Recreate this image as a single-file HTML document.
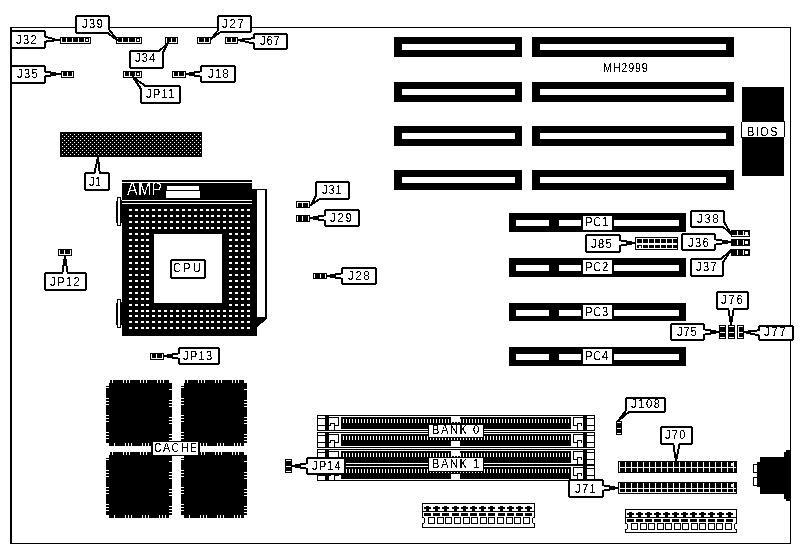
<!DOCTYPE html>
<html><head><meta charset="utf-8"><style>
html,body{margin:0;padding:0;background:#fff;width:802px;height:549px;overflow:hidden}
svg{display:block;will-change:transform}
text{font-family:"Liberation Sans",sans-serif}
</style></head><body>
<svg width="802" height="549" viewBox="0 0 802 549" shape-rendering="crispEdges">
<defs><filter id="th" x="-10%" y="-30%" width="120%" height="160%"><feComponentTransfer><feFuncA type="discrete" tableValues="0 0 0 0 0 0 0 0 0 1 1 1 1 1 1 1 1 1 1 1"/></feComponentTransfer></filter><filter id="th2" x="-10%" y="-30%" width="120%" height="160%"><feComponentTransfer><feFuncA type="discrete" tableValues="0 0 0 1 1"/></feComponentTransfer></filter></defs>
<rect x="10" y="27" width="781" height="1" fill="#000"/>
<rect x="10" y="27" width="2" height="517" fill="#000"/>
<rect x="790" y="27" width="1" height="517" fill="#000"/>
<rect x="10" y="543" width="781" height="1" fill="#000"/>
<rect x="394" y="37" width="128" height="20" fill="#000"/>
<rect x="402" y="44" width="113" height="6" fill="#fff"/>
<rect x="532" y="37" width="202" height="20" fill="#000"/>
<rect x="540" y="44" width="186" height="6" fill="#fff"/>
<rect x="394" y="82" width="128" height="20" fill="#000"/>
<rect x="402" y="89" width="113" height="6" fill="#fff"/>
<rect x="532" y="82" width="202" height="20" fill="#000"/>
<rect x="540" y="89" width="186" height="6" fill="#fff"/>
<rect x="394" y="126" width="128" height="20" fill="#000"/>
<rect x="402" y="133" width="113" height="6" fill="#fff"/>
<rect x="532" y="126" width="202" height="20" fill="#000"/>
<rect x="540" y="133" width="186" height="6" fill="#fff"/>
<rect x="394" y="170" width="128" height="20" fill="#000"/>
<rect x="402" y="177" width="113" height="6" fill="#fff"/>
<rect x="532" y="170" width="202" height="20" fill="#000"/>
<rect x="540" y="177" width="186" height="6" fill="#fff"/>
<text transform="translate(603,72) scale(0.82,1)" font-size="13.0" letter-spacing="1.1" fill="#000" filter="url(#th)">MH2999</text>
<rect x="742" y="87" width="42" height="89" fill="#000"/>
<rect x="741" y="121" width="44" height="17" rx="2" fill="#000"/>
<rect x="742" y="122" width="42" height="15" fill="#fff"/>
<text transform="translate(747,136) scale(0.82,1)" font-size="13.6" letter-spacing="1.5" fill="#000" filter="url(#th)">BIOS</text>
<rect x="60" y="37" width="31" height="7" fill="#000"/>
<rect x="61" y="38" width="29" height="5" fill="#fff"/>
<rect x="62" y="38" width="4" height="4" fill="#000"/>
<rect x="67" y="38" width="5" height="4" fill="#000"/>
<rect x="73" y="38" width="5" height="4" fill="#000"/>
<rect x="79" y="38" width="5" height="4" fill="#000"/>
<rect x="85" y="38" width="4" height="4" fill="#000"/>
<rect x="86" y="39" width="2" height="2" fill="#fff"/>
<rect x="116" y="37" width="26" height="7" fill="#000"/>
<rect x="117" y="38" width="24" height="5" fill="#fff"/>
<rect x="118" y="38" width="4" height="4" fill="#000"/>
<rect x="123" y="38" width="5" height="4" fill="#000"/>
<rect x="129" y="38" width="6" height="4" fill="#000"/>
<rect x="136" y="38" width="4" height="4" fill="#000"/>
<rect x="137" y="39" width="2" height="2" fill="#fff"/>
<rect x="165" y="37" width="13" height="7" fill="#000"/>
<rect x="166" y="38" width="11" height="5" fill="#fff"/>
<rect x="167" y="38" width="4" height="4" fill="#000"/>
<rect x="172" y="38" width="4" height="4" fill="#000"/>
<rect x="197" y="37" width="14" height="7" fill="#000"/>
<rect x="198" y="38" width="12" height="5" fill="#fff"/>
<rect x="199" y="38" width="5" height="4" fill="#000"/>
<rect x="205" y="38" width="4" height="4" fill="#000"/>
<rect x="225" y="37" width="13" height="7" fill="#000"/>
<rect x="226" y="38" width="11" height="5" fill="#fff"/>
<rect x="227" y="38" width="4" height="4" fill="#000"/>
<rect x="232" y="38" width="4" height="4" fill="#000"/>
<rect x="61" y="71" width="13" height="7" fill="#000"/>
<rect x="62" y="72" width="11" height="5" fill="#fff"/>
<rect x="63" y="72" width="4" height="4" fill="#000"/>
<rect x="68" y="72" width="4" height="4" fill="#000"/>
<rect x="123" y="71" width="19" height="7" fill="#000"/>
<rect x="124" y="72" width="17" height="5" fill="#fff"/>
<rect x="125" y="72" width="4" height="4" fill="#000"/>
<rect x="130" y="72" width="5" height="4" fill="#000"/>
<rect x="136" y="72" width="4" height="4" fill="#000"/>
<rect x="137" y="73" width="2" height="2" fill="#fff"/>
<rect x="172" y="71" width="14" height="7" fill="#000"/>
<rect x="173" y="72" width="12" height="5" fill="#fff"/>
<rect x="174" y="72" width="4" height="4" fill="#000"/>
<rect x="179" y="72" width="5" height="4" fill="#000"/>
<rect x="10" y="30" width="36" height="19" rx="3" fill="#000"/>
<polygon points="43,36 43,42 57,40" fill="#fff" stroke="#000" stroke-width="2" stroke-linejoin="round"/>
<line x1="56" y1="40" x2="60" y2="40" stroke="#000" stroke-width="2"/>
<rect x="12" y="32" width="32" height="15" rx="1.5" fill="#fff"/>
<text transform="translate(16,44) scale(0.82,1)" font-size="13.6" letter-spacing="1.65" fill="#000" filter="url(#th)">J32</text>
<rect x="10" y="65" width="36" height="19" rx="3" fill="#000"/>
<polygon points="43,71 43,77 58,74" fill="#fff" stroke="#000" stroke-width="2" stroke-linejoin="round"/>
<line x1="57" y1="74" x2="61" y2="74" stroke="#000" stroke-width="2"/>
<rect x="12" y="67" width="32" height="15" rx="1.5" fill="#fff"/>
<text transform="translate(17,78) scale(0.82,1)" font-size="13.6" letter-spacing="1.65" fill="#000" filter="url(#th)">J35</text>
<rect x="75" y="15" width="35" height="19" rx="3" fill="#000"/>
<polygon points="105,31 108,28 117,40" fill="#fff" stroke="#000" stroke-width="2" stroke-linejoin="round"/>
<rect x="77" y="17" width="31" height="15" rx="1.5" fill="#fff"/>
<text transform="translate(82,28) scale(0.82,1)" font-size="13.6" letter-spacing="1.65" fill="#000" filter="url(#th)">J39</text>
<rect x="129" y="50" width="35" height="19" rx="3" fill="#000"/>
<polygon points="157,53 161,56 168,43" fill="#fff" stroke="#000" stroke-width="2" stroke-linejoin="round"/>
<rect x="131" y="52" width="31" height="15" rx="1.5" fill="#fff"/>
<text transform="translate(135,62) scale(0.82,1)" font-size="13.6" letter-spacing="1.4500000000000002" fill="#000" filter="url(#th)">J34</text>
<rect x="140" y="85" width="41" height="19" rx="3" fill="#000"/>
<polygon points="143,92 148,88 133,77" fill="#fff" stroke="#000" stroke-width="2" stroke-linejoin="round"/>
<rect x="142" y="87" width="37" height="15" rx="1.5" fill="#fff"/>
<text transform="translate(146,98) scale(0.82,1)" font-size="13.6" letter-spacing="1.5499999999999998" fill="#000" filter="url(#th)">JP11</text>
<rect x="217" y="15" width="35" height="18" rx="3" fill="#000"/>
<polygon points="219,29 222,31 211,39" fill="#fff" stroke="#000" stroke-width="2" stroke-linejoin="round"/>
<rect x="219" y="17" width="31" height="14" rx="1.5" fill="#fff"/>
<text transform="translate(222,28) scale(0.82,1)" font-size="13.6" letter-spacing="2.25" fill="#000" filter="url(#th)">J27</text>
<rect x="253" y="33" width="35" height="17" rx="3" fill="#000"/>
<polygon points="256,38 256,44 238,40" fill="#fff" stroke="#000" stroke-width="2" stroke-linejoin="round"/>
<rect x="255" y="35" width="31" height="13" rx="1.5" fill="#fff"/>
<text transform="translate(260,45) scale(0.82,1)" font-size="13.6" letter-spacing="1.0499999999999998" fill="#000" filter="url(#th)">J67</text>
<rect x="200" y="65" width="36" height="18" rx="3" fill="#000"/>
<polygon points="203,71 203,77 186,74" fill="#fff" stroke="#000" stroke-width="2" stroke-linejoin="round"/>
<rect x="202" y="67" width="32" height="14" rx="1.5" fill="#fff"/>
<text transform="translate(208,78) scale(0.82,1)" font-size="13.6" letter-spacing="1.65" fill="#000" filter="url(#th)">J18</text>
<rect x="60" y="132" width="142" height="25" fill="#000"/>
<rect x="62" y="134" width="1" height="1" fill="#fff"/>
<rect x="66" y="134" width="1" height="1" fill="#fff"/>
<rect x="70" y="134" width="1" height="1" fill="#fff"/>
<rect x="74" y="134" width="1" height="1" fill="#fff"/>
<rect x="78" y="134" width="1" height="1" fill="#fff"/>
<rect x="82" y="134" width="1" height="1" fill="#fff"/>
<rect x="86" y="134" width="1" height="1" fill="#fff"/>
<rect x="90" y="134" width="1" height="1" fill="#fff"/>
<rect x="94" y="134" width="1" height="1" fill="#fff"/>
<rect x="98" y="134" width="1" height="1" fill="#fff"/>
<rect x="102" y="134" width="1" height="1" fill="#fff"/>
<rect x="106" y="134" width="1" height="1" fill="#fff"/>
<rect x="110" y="134" width="1" height="1" fill="#fff"/>
<rect x="114" y="134" width="1" height="1" fill="#fff"/>
<rect x="118" y="134" width="1" height="1" fill="#fff"/>
<rect x="122" y="134" width="1" height="1" fill="#fff"/>
<rect x="126" y="134" width="1" height="1" fill="#fff"/>
<rect x="130" y="134" width="1" height="1" fill="#fff"/>
<rect x="134" y="134" width="1" height="1" fill="#fff"/>
<rect x="138" y="134" width="1" height="1" fill="#fff"/>
<rect x="142" y="134" width="1" height="1" fill="#fff"/>
<rect x="146" y="134" width="1" height="1" fill="#fff"/>
<rect x="150" y="134" width="1" height="1" fill="#fff"/>
<rect x="154" y="134" width="1" height="1" fill="#fff"/>
<rect x="158" y="134" width="1" height="1" fill="#fff"/>
<rect x="162" y="134" width="1" height="1" fill="#fff"/>
<rect x="166" y="134" width="1" height="1" fill="#fff"/>
<rect x="170" y="134" width="1" height="1" fill="#fff"/>
<rect x="174" y="134" width="1" height="1" fill="#fff"/>
<rect x="178" y="134" width="1" height="1" fill="#fff"/>
<rect x="182" y="134" width="1" height="1" fill="#fff"/>
<rect x="186" y="134" width="1" height="1" fill="#fff"/>
<rect x="190" y="134" width="1" height="1" fill="#fff"/>
<rect x="194" y="134" width="1" height="1" fill="#fff"/>
<rect x="198" y="134" width="1" height="1" fill="#fff"/>
<rect x="64" y="136" width="1" height="1" fill="#fff"/>
<rect x="68" y="136" width="1" height="1" fill="#fff"/>
<rect x="72" y="136" width="1" height="1" fill="#fff"/>
<rect x="76" y="136" width="1" height="1" fill="#fff"/>
<rect x="80" y="136" width="1" height="1" fill="#fff"/>
<rect x="84" y="136" width="1" height="1" fill="#fff"/>
<rect x="88" y="136" width="1" height="1" fill="#fff"/>
<rect x="92" y="136" width="1" height="1" fill="#fff"/>
<rect x="96" y="136" width="1" height="1" fill="#fff"/>
<rect x="100" y="136" width="1" height="1" fill="#fff"/>
<rect x="104" y="136" width="1" height="1" fill="#fff"/>
<rect x="108" y="136" width="1" height="1" fill="#fff"/>
<rect x="112" y="136" width="1" height="1" fill="#fff"/>
<rect x="116" y="136" width="1" height="1" fill="#fff"/>
<rect x="120" y="136" width="1" height="1" fill="#fff"/>
<rect x="124" y="136" width="1" height="1" fill="#fff"/>
<rect x="128" y="136" width="1" height="1" fill="#fff"/>
<rect x="132" y="136" width="1" height="1" fill="#fff"/>
<rect x="136" y="136" width="1" height="1" fill="#fff"/>
<rect x="140" y="136" width="1" height="1" fill="#fff"/>
<rect x="144" y="136" width="1" height="1" fill="#fff"/>
<rect x="148" y="136" width="1" height="1" fill="#fff"/>
<rect x="152" y="136" width="1" height="1" fill="#fff"/>
<rect x="156" y="136" width="1" height="1" fill="#fff"/>
<rect x="160" y="136" width="1" height="1" fill="#fff"/>
<rect x="164" y="136" width="1" height="1" fill="#fff"/>
<rect x="168" y="136" width="1" height="1" fill="#fff"/>
<rect x="172" y="136" width="1" height="1" fill="#fff"/>
<rect x="176" y="136" width="1" height="1" fill="#fff"/>
<rect x="180" y="136" width="1" height="1" fill="#fff"/>
<rect x="184" y="136" width="1" height="1" fill="#fff"/>
<rect x="188" y="136" width="1" height="1" fill="#fff"/>
<rect x="192" y="136" width="1" height="1" fill="#fff"/>
<rect x="196" y="136" width="1" height="1" fill="#fff"/>
<rect x="200" y="136" width="1" height="1" fill="#fff"/>
<rect x="62" y="138" width="1" height="1" fill="#fff"/>
<rect x="66" y="138" width="1" height="1" fill="#fff"/>
<rect x="70" y="138" width="1" height="1" fill="#fff"/>
<rect x="74" y="138" width="1" height="1" fill="#fff"/>
<rect x="78" y="138" width="1" height="1" fill="#fff"/>
<rect x="82" y="138" width="1" height="1" fill="#fff"/>
<rect x="86" y="138" width="1" height="1" fill="#fff"/>
<rect x="90" y="138" width="1" height="1" fill="#fff"/>
<rect x="94" y="138" width="1" height="1" fill="#fff"/>
<rect x="98" y="138" width="1" height="1" fill="#fff"/>
<rect x="102" y="138" width="1" height="1" fill="#fff"/>
<rect x="106" y="138" width="1" height="1" fill="#fff"/>
<rect x="110" y="138" width="1" height="1" fill="#fff"/>
<rect x="114" y="138" width="1" height="1" fill="#fff"/>
<rect x="118" y="138" width="1" height="1" fill="#fff"/>
<rect x="122" y="138" width="1" height="1" fill="#fff"/>
<rect x="126" y="138" width="1" height="1" fill="#fff"/>
<rect x="130" y="138" width="1" height="1" fill="#fff"/>
<rect x="134" y="138" width="1" height="1" fill="#fff"/>
<rect x="138" y="138" width="1" height="1" fill="#fff"/>
<rect x="142" y="138" width="1" height="1" fill="#fff"/>
<rect x="146" y="138" width="1" height="1" fill="#fff"/>
<rect x="150" y="138" width="1" height="1" fill="#fff"/>
<rect x="154" y="138" width="1" height="1" fill="#fff"/>
<rect x="158" y="138" width="1" height="1" fill="#fff"/>
<rect x="162" y="138" width="1" height="1" fill="#fff"/>
<rect x="166" y="138" width="1" height="1" fill="#fff"/>
<rect x="170" y="138" width="1" height="1" fill="#fff"/>
<rect x="174" y="138" width="1" height="1" fill="#fff"/>
<rect x="178" y="138" width="1" height="1" fill="#fff"/>
<rect x="182" y="138" width="1" height="1" fill="#fff"/>
<rect x="186" y="138" width="1" height="1" fill="#fff"/>
<rect x="190" y="138" width="1" height="1" fill="#fff"/>
<rect x="194" y="138" width="1" height="1" fill="#fff"/>
<rect x="198" y="138" width="1" height="1" fill="#fff"/>
<rect x="64" y="140" width="1" height="1" fill="#fff"/>
<rect x="68" y="140" width="1" height="1" fill="#fff"/>
<rect x="72" y="140" width="1" height="1" fill="#fff"/>
<rect x="76" y="140" width="1" height="1" fill="#fff"/>
<rect x="80" y="140" width="1" height="1" fill="#fff"/>
<rect x="84" y="140" width="1" height="1" fill="#fff"/>
<rect x="88" y="140" width="1" height="1" fill="#fff"/>
<rect x="92" y="140" width="1" height="1" fill="#fff"/>
<rect x="96" y="140" width="1" height="1" fill="#fff"/>
<rect x="100" y="140" width="1" height="1" fill="#fff"/>
<rect x="104" y="140" width="1" height="1" fill="#fff"/>
<rect x="108" y="140" width="1" height="1" fill="#fff"/>
<rect x="112" y="140" width="1" height="1" fill="#fff"/>
<rect x="116" y="140" width="1" height="1" fill="#fff"/>
<rect x="120" y="140" width="1" height="1" fill="#fff"/>
<rect x="124" y="140" width="1" height="1" fill="#fff"/>
<rect x="128" y="140" width="1" height="1" fill="#fff"/>
<rect x="132" y="140" width="1" height="1" fill="#fff"/>
<rect x="136" y="140" width="1" height="1" fill="#fff"/>
<rect x="140" y="140" width="1" height="1" fill="#fff"/>
<rect x="144" y="140" width="1" height="1" fill="#fff"/>
<rect x="148" y="140" width="1" height="1" fill="#fff"/>
<rect x="152" y="140" width="1" height="1" fill="#fff"/>
<rect x="156" y="140" width="1" height="1" fill="#fff"/>
<rect x="160" y="140" width="1" height="1" fill="#fff"/>
<rect x="164" y="140" width="1" height="1" fill="#fff"/>
<rect x="168" y="140" width="1" height="1" fill="#fff"/>
<rect x="172" y="140" width="1" height="1" fill="#fff"/>
<rect x="176" y="140" width="1" height="1" fill="#fff"/>
<rect x="180" y="140" width="1" height="1" fill="#fff"/>
<rect x="184" y="140" width="1" height="1" fill="#fff"/>
<rect x="188" y="140" width="1" height="1" fill="#fff"/>
<rect x="192" y="140" width="1" height="1" fill="#fff"/>
<rect x="196" y="140" width="1" height="1" fill="#fff"/>
<rect x="200" y="140" width="1" height="1" fill="#fff"/>
<rect x="62" y="142" width="1" height="1" fill="#fff"/>
<rect x="66" y="142" width="1" height="1" fill="#fff"/>
<rect x="70" y="142" width="1" height="1" fill="#fff"/>
<rect x="74" y="142" width="1" height="1" fill="#fff"/>
<rect x="78" y="142" width="1" height="1" fill="#fff"/>
<rect x="82" y="142" width="1" height="1" fill="#fff"/>
<rect x="86" y="142" width="1" height="1" fill="#fff"/>
<rect x="90" y="142" width="1" height="1" fill="#fff"/>
<rect x="94" y="142" width="1" height="1" fill="#fff"/>
<rect x="98" y="142" width="1" height="1" fill="#fff"/>
<rect x="102" y="142" width="1" height="1" fill="#fff"/>
<rect x="106" y="142" width="1" height="1" fill="#fff"/>
<rect x="110" y="142" width="1" height="1" fill="#fff"/>
<rect x="114" y="142" width="1" height="1" fill="#fff"/>
<rect x="118" y="142" width="1" height="1" fill="#fff"/>
<rect x="122" y="142" width="1" height="1" fill="#fff"/>
<rect x="126" y="142" width="1" height="1" fill="#fff"/>
<rect x="130" y="142" width="1" height="1" fill="#fff"/>
<rect x="134" y="142" width="1" height="1" fill="#fff"/>
<rect x="138" y="142" width="1" height="1" fill="#fff"/>
<rect x="142" y="142" width="1" height="1" fill="#fff"/>
<rect x="146" y="142" width="1" height="1" fill="#fff"/>
<rect x="150" y="142" width="1" height="1" fill="#fff"/>
<rect x="154" y="142" width="1" height="1" fill="#fff"/>
<rect x="158" y="142" width="1" height="1" fill="#fff"/>
<rect x="162" y="142" width="1" height="1" fill="#fff"/>
<rect x="166" y="142" width="1" height="1" fill="#fff"/>
<rect x="170" y="142" width="1" height="1" fill="#fff"/>
<rect x="174" y="142" width="1" height="1" fill="#fff"/>
<rect x="178" y="142" width="1" height="1" fill="#fff"/>
<rect x="182" y="142" width="1" height="1" fill="#fff"/>
<rect x="186" y="142" width="1" height="1" fill="#fff"/>
<rect x="190" y="142" width="1" height="1" fill="#fff"/>
<rect x="194" y="142" width="1" height="1" fill="#fff"/>
<rect x="198" y="142" width="1" height="1" fill="#fff"/>
<rect x="64" y="144" width="1" height="1" fill="#fff"/>
<rect x="68" y="144" width="1" height="1" fill="#fff"/>
<rect x="72" y="144" width="1" height="1" fill="#fff"/>
<rect x="76" y="144" width="1" height="1" fill="#fff"/>
<rect x="80" y="144" width="1" height="1" fill="#fff"/>
<rect x="84" y="144" width="1" height="1" fill="#fff"/>
<rect x="88" y="144" width="1" height="1" fill="#fff"/>
<rect x="92" y="144" width="1" height="1" fill="#fff"/>
<rect x="96" y="144" width="1" height="1" fill="#fff"/>
<rect x="100" y="144" width="1" height="1" fill="#fff"/>
<rect x="104" y="144" width="1" height="1" fill="#fff"/>
<rect x="108" y="144" width="1" height="1" fill="#fff"/>
<rect x="112" y="144" width="1" height="1" fill="#fff"/>
<rect x="116" y="144" width="1" height="1" fill="#fff"/>
<rect x="120" y="144" width="1" height="1" fill="#fff"/>
<rect x="124" y="144" width="1" height="1" fill="#fff"/>
<rect x="128" y="144" width="1" height="1" fill="#fff"/>
<rect x="132" y="144" width="1" height="1" fill="#fff"/>
<rect x="136" y="144" width="1" height="1" fill="#fff"/>
<rect x="140" y="144" width="1" height="1" fill="#fff"/>
<rect x="144" y="144" width="1" height="1" fill="#fff"/>
<rect x="148" y="144" width="1" height="1" fill="#fff"/>
<rect x="152" y="144" width="1" height="1" fill="#fff"/>
<rect x="156" y="144" width="1" height="1" fill="#fff"/>
<rect x="160" y="144" width="1" height="1" fill="#fff"/>
<rect x="164" y="144" width="1" height="1" fill="#fff"/>
<rect x="168" y="144" width="1" height="1" fill="#fff"/>
<rect x="172" y="144" width="1" height="1" fill="#fff"/>
<rect x="176" y="144" width="1" height="1" fill="#fff"/>
<rect x="180" y="144" width="1" height="1" fill="#fff"/>
<rect x="184" y="144" width="1" height="1" fill="#fff"/>
<rect x="188" y="144" width="1" height="1" fill="#fff"/>
<rect x="192" y="144" width="1" height="1" fill="#fff"/>
<rect x="196" y="144" width="1" height="1" fill="#fff"/>
<rect x="200" y="144" width="1" height="1" fill="#fff"/>
<rect x="62" y="146" width="1" height="1" fill="#fff"/>
<rect x="66" y="146" width="1" height="1" fill="#fff"/>
<rect x="70" y="146" width="1" height="1" fill="#fff"/>
<rect x="74" y="146" width="1" height="1" fill="#fff"/>
<rect x="78" y="146" width="1" height="1" fill="#fff"/>
<rect x="82" y="146" width="1" height="1" fill="#fff"/>
<rect x="86" y="146" width="1" height="1" fill="#fff"/>
<rect x="90" y="146" width="1" height="1" fill="#fff"/>
<rect x="94" y="146" width="1" height="1" fill="#fff"/>
<rect x="98" y="146" width="1" height="1" fill="#fff"/>
<rect x="102" y="146" width="1" height="1" fill="#fff"/>
<rect x="106" y="146" width="1" height="1" fill="#fff"/>
<rect x="110" y="146" width="1" height="1" fill="#fff"/>
<rect x="114" y="146" width="1" height="1" fill="#fff"/>
<rect x="118" y="146" width="1" height="1" fill="#fff"/>
<rect x="122" y="146" width="1" height="1" fill="#fff"/>
<rect x="126" y="146" width="1" height="1" fill="#fff"/>
<rect x="130" y="146" width="1" height="1" fill="#fff"/>
<rect x="134" y="146" width="1" height="1" fill="#fff"/>
<rect x="138" y="146" width="1" height="1" fill="#fff"/>
<rect x="142" y="146" width="1" height="1" fill="#fff"/>
<rect x="146" y="146" width="1" height="1" fill="#fff"/>
<rect x="150" y="146" width="1" height="1" fill="#fff"/>
<rect x="154" y="146" width="1" height="1" fill="#fff"/>
<rect x="158" y="146" width="1" height="1" fill="#fff"/>
<rect x="162" y="146" width="1" height="1" fill="#fff"/>
<rect x="166" y="146" width="1" height="1" fill="#fff"/>
<rect x="170" y="146" width="1" height="1" fill="#fff"/>
<rect x="174" y="146" width="1" height="1" fill="#fff"/>
<rect x="178" y="146" width="1" height="1" fill="#fff"/>
<rect x="182" y="146" width="1" height="1" fill="#fff"/>
<rect x="186" y="146" width="1" height="1" fill="#fff"/>
<rect x="190" y="146" width="1" height="1" fill="#fff"/>
<rect x="194" y="146" width="1" height="1" fill="#fff"/>
<rect x="198" y="146" width="1" height="1" fill="#fff"/>
<rect x="64" y="148" width="1" height="1" fill="#fff"/>
<rect x="68" y="148" width="1" height="1" fill="#fff"/>
<rect x="72" y="148" width="1" height="1" fill="#fff"/>
<rect x="76" y="148" width="1" height="1" fill="#fff"/>
<rect x="80" y="148" width="1" height="1" fill="#fff"/>
<rect x="84" y="148" width="1" height="1" fill="#fff"/>
<rect x="88" y="148" width="1" height="1" fill="#fff"/>
<rect x="92" y="148" width="1" height="1" fill="#fff"/>
<rect x="96" y="148" width="1" height="1" fill="#fff"/>
<rect x="100" y="148" width="1" height="1" fill="#fff"/>
<rect x="104" y="148" width="1" height="1" fill="#fff"/>
<rect x="108" y="148" width="1" height="1" fill="#fff"/>
<rect x="112" y="148" width="1" height="1" fill="#fff"/>
<rect x="116" y="148" width="1" height="1" fill="#fff"/>
<rect x="120" y="148" width="1" height="1" fill="#fff"/>
<rect x="124" y="148" width="1" height="1" fill="#fff"/>
<rect x="128" y="148" width="1" height="1" fill="#fff"/>
<rect x="132" y="148" width="1" height="1" fill="#fff"/>
<rect x="136" y="148" width="1" height="1" fill="#fff"/>
<rect x="140" y="148" width="1" height="1" fill="#fff"/>
<rect x="144" y="148" width="1" height="1" fill="#fff"/>
<rect x="148" y="148" width="1" height="1" fill="#fff"/>
<rect x="152" y="148" width="1" height="1" fill="#fff"/>
<rect x="156" y="148" width="1" height="1" fill="#fff"/>
<rect x="160" y="148" width="1" height="1" fill="#fff"/>
<rect x="164" y="148" width="1" height="1" fill="#fff"/>
<rect x="168" y="148" width="1" height="1" fill="#fff"/>
<rect x="172" y="148" width="1" height="1" fill="#fff"/>
<rect x="176" y="148" width="1" height="1" fill="#fff"/>
<rect x="180" y="148" width="1" height="1" fill="#fff"/>
<rect x="184" y="148" width="1" height="1" fill="#fff"/>
<rect x="188" y="148" width="1" height="1" fill="#fff"/>
<rect x="192" y="148" width="1" height="1" fill="#fff"/>
<rect x="196" y="148" width="1" height="1" fill="#fff"/>
<rect x="200" y="148" width="1" height="1" fill="#fff"/>
<rect x="62" y="150" width="1" height="1" fill="#fff"/>
<rect x="66" y="150" width="1" height="1" fill="#fff"/>
<rect x="70" y="150" width="1" height="1" fill="#fff"/>
<rect x="74" y="150" width="1" height="1" fill="#fff"/>
<rect x="78" y="150" width="1" height="1" fill="#fff"/>
<rect x="82" y="150" width="1" height="1" fill="#fff"/>
<rect x="86" y="150" width="1" height="1" fill="#fff"/>
<rect x="90" y="150" width="1" height="1" fill="#fff"/>
<rect x="94" y="150" width="1" height="1" fill="#fff"/>
<rect x="98" y="150" width="1" height="1" fill="#fff"/>
<rect x="102" y="150" width="1" height="1" fill="#fff"/>
<rect x="106" y="150" width="1" height="1" fill="#fff"/>
<rect x="110" y="150" width="1" height="1" fill="#fff"/>
<rect x="114" y="150" width="1" height="1" fill="#fff"/>
<rect x="118" y="150" width="1" height="1" fill="#fff"/>
<rect x="122" y="150" width="1" height="1" fill="#fff"/>
<rect x="126" y="150" width="1" height="1" fill="#fff"/>
<rect x="130" y="150" width="1" height="1" fill="#fff"/>
<rect x="134" y="150" width="1" height="1" fill="#fff"/>
<rect x="138" y="150" width="1" height="1" fill="#fff"/>
<rect x="142" y="150" width="1" height="1" fill="#fff"/>
<rect x="146" y="150" width="1" height="1" fill="#fff"/>
<rect x="150" y="150" width="1" height="1" fill="#fff"/>
<rect x="154" y="150" width="1" height="1" fill="#fff"/>
<rect x="158" y="150" width="1" height="1" fill="#fff"/>
<rect x="162" y="150" width="1" height="1" fill="#fff"/>
<rect x="166" y="150" width="1" height="1" fill="#fff"/>
<rect x="170" y="150" width="1" height="1" fill="#fff"/>
<rect x="174" y="150" width="1" height="1" fill="#fff"/>
<rect x="178" y="150" width="1" height="1" fill="#fff"/>
<rect x="182" y="150" width="1" height="1" fill="#fff"/>
<rect x="186" y="150" width="1" height="1" fill="#fff"/>
<rect x="190" y="150" width="1" height="1" fill="#fff"/>
<rect x="194" y="150" width="1" height="1" fill="#fff"/>
<rect x="198" y="150" width="1" height="1" fill="#fff"/>
<rect x="64" y="152" width="1" height="1" fill="#fff"/>
<rect x="68" y="152" width="1" height="1" fill="#fff"/>
<rect x="72" y="152" width="1" height="1" fill="#fff"/>
<rect x="76" y="152" width="1" height="1" fill="#fff"/>
<rect x="80" y="152" width="1" height="1" fill="#fff"/>
<rect x="84" y="152" width="1" height="1" fill="#fff"/>
<rect x="88" y="152" width="1" height="1" fill="#fff"/>
<rect x="92" y="152" width="1" height="1" fill="#fff"/>
<rect x="96" y="152" width="1" height="1" fill="#fff"/>
<rect x="100" y="152" width="1" height="1" fill="#fff"/>
<rect x="104" y="152" width="1" height="1" fill="#fff"/>
<rect x="108" y="152" width="1" height="1" fill="#fff"/>
<rect x="112" y="152" width="1" height="1" fill="#fff"/>
<rect x="116" y="152" width="1" height="1" fill="#fff"/>
<rect x="120" y="152" width="1" height="1" fill="#fff"/>
<rect x="124" y="152" width="1" height="1" fill="#fff"/>
<rect x="128" y="152" width="1" height="1" fill="#fff"/>
<rect x="132" y="152" width="1" height="1" fill="#fff"/>
<rect x="136" y="152" width="1" height="1" fill="#fff"/>
<rect x="140" y="152" width="1" height="1" fill="#fff"/>
<rect x="144" y="152" width="1" height="1" fill="#fff"/>
<rect x="148" y="152" width="1" height="1" fill="#fff"/>
<rect x="152" y="152" width="1" height="1" fill="#fff"/>
<rect x="156" y="152" width="1" height="1" fill="#fff"/>
<rect x="160" y="152" width="1" height="1" fill="#fff"/>
<rect x="164" y="152" width="1" height="1" fill="#fff"/>
<rect x="168" y="152" width="1" height="1" fill="#fff"/>
<rect x="172" y="152" width="1" height="1" fill="#fff"/>
<rect x="176" y="152" width="1" height="1" fill="#fff"/>
<rect x="180" y="152" width="1" height="1" fill="#fff"/>
<rect x="184" y="152" width="1" height="1" fill="#fff"/>
<rect x="188" y="152" width="1" height="1" fill="#fff"/>
<rect x="192" y="152" width="1" height="1" fill="#fff"/>
<rect x="196" y="152" width="1" height="1" fill="#fff"/>
<rect x="200" y="152" width="1" height="1" fill="#fff"/>
<rect x="62" y="154" width="1" height="1" fill="#fff"/>
<rect x="66" y="154" width="1" height="1" fill="#fff"/>
<rect x="70" y="154" width="1" height="1" fill="#fff"/>
<rect x="74" y="154" width="1" height="1" fill="#fff"/>
<rect x="78" y="154" width="1" height="1" fill="#fff"/>
<rect x="82" y="154" width="1" height="1" fill="#fff"/>
<rect x="86" y="154" width="1" height="1" fill="#fff"/>
<rect x="90" y="154" width="1" height="1" fill="#fff"/>
<rect x="94" y="154" width="1" height="1" fill="#fff"/>
<rect x="98" y="154" width="1" height="1" fill="#fff"/>
<rect x="102" y="154" width="1" height="1" fill="#fff"/>
<rect x="106" y="154" width="1" height="1" fill="#fff"/>
<rect x="110" y="154" width="1" height="1" fill="#fff"/>
<rect x="114" y="154" width="1" height="1" fill="#fff"/>
<rect x="118" y="154" width="1" height="1" fill="#fff"/>
<rect x="122" y="154" width="1" height="1" fill="#fff"/>
<rect x="126" y="154" width="1" height="1" fill="#fff"/>
<rect x="130" y="154" width="1" height="1" fill="#fff"/>
<rect x="134" y="154" width="1" height="1" fill="#fff"/>
<rect x="138" y="154" width="1" height="1" fill="#fff"/>
<rect x="142" y="154" width="1" height="1" fill="#fff"/>
<rect x="146" y="154" width="1" height="1" fill="#fff"/>
<rect x="150" y="154" width="1" height="1" fill="#fff"/>
<rect x="154" y="154" width="1" height="1" fill="#fff"/>
<rect x="158" y="154" width="1" height="1" fill="#fff"/>
<rect x="162" y="154" width="1" height="1" fill="#fff"/>
<rect x="166" y="154" width="1" height="1" fill="#fff"/>
<rect x="170" y="154" width="1" height="1" fill="#fff"/>
<rect x="174" y="154" width="1" height="1" fill="#fff"/>
<rect x="178" y="154" width="1" height="1" fill="#fff"/>
<rect x="182" y="154" width="1" height="1" fill="#fff"/>
<rect x="186" y="154" width="1" height="1" fill="#fff"/>
<rect x="190" y="154" width="1" height="1" fill="#fff"/>
<rect x="194" y="154" width="1" height="1" fill="#fff"/>
<rect x="198" y="154" width="1" height="1" fill="#fff"/>
<rect x="84" y="172" width="26" height="19" rx="3" fill="#000"/>
<polygon points="94,175 100,175 98,157" fill="#fff" stroke="#000" stroke-width="2" stroke-linejoin="round"/>
<rect x="86" y="174" width="22" height="15" rx="1.5" fill="#fff"/>
<text transform="translate(89,186) scale(0.82,1)" font-size="13.6" letter-spacing="0.35" fill="#000" filter="url(#th)">J1</text>
<rect x="122" y="180" width="130" height="2" fill="#000"/>
<rect x="122" y="183" width="130" height="17" fill="#000"/>
<text transform="translate(127,195) scale(0.9,1)" font-size="17.5" letter-spacing="0.5" fill="#fff" filter="url(#th2)">AMP</text>
<rect x="167" y="186" width="32" height="4" fill="#fff"/>
<rect x="166" y="191" width="34" height="7" fill="#fff"/>
<rect x="122" y="201" width="130" height="2" fill="#000"/>
<rect x="122" y="204" width="135" height="132" fill="#000"/>
<rect x="129" y="209" width="3" height="2" fill="#fff"/>
<rect x="135" y="209" width="3" height="2" fill="#fff"/>
<rect x="141" y="209" width="3" height="2" fill="#fff"/>
<rect x="146" y="209" width="3" height="2" fill="#fff"/>
<rect x="152" y="209" width="3" height="2" fill="#fff"/>
<rect x="158" y="209" width="3" height="2" fill="#fff"/>
<rect x="164" y="209" width="3" height="2" fill="#fff"/>
<rect x="170" y="209" width="3" height="2" fill="#fff"/>
<rect x="176" y="209" width="3" height="2" fill="#fff"/>
<rect x="182" y="209" width="3" height="2" fill="#fff"/>
<rect x="188" y="209" width="3" height="2" fill="#fff"/>
<rect x="194" y="209" width="3" height="2" fill="#fff"/>
<rect x="200" y="209" width="3" height="2" fill="#fff"/>
<rect x="206" y="209" width="3" height="2" fill="#fff"/>
<rect x="211" y="209" width="3" height="2" fill="#fff"/>
<rect x="217" y="209" width="3" height="2" fill="#fff"/>
<rect x="223" y="209" width="3" height="2" fill="#fff"/>
<rect x="229" y="209" width="3" height="2" fill="#fff"/>
<rect x="235" y="209" width="3" height="2" fill="#fff"/>
<rect x="241" y="209" width="3" height="2" fill="#fff"/>
<rect x="247" y="209" width="3" height="2" fill="#fff"/>
<rect x="129" y="215" width="3" height="2" fill="#fff"/>
<rect x="135" y="215" width="3" height="2" fill="#fff"/>
<rect x="141" y="215" width="3" height="2" fill="#fff"/>
<rect x="146" y="215" width="3" height="2" fill="#fff"/>
<rect x="152" y="215" width="3" height="2" fill="#fff"/>
<rect x="158" y="215" width="3" height="2" fill="#fff"/>
<rect x="164" y="215" width="3" height="2" fill="#fff"/>
<rect x="170" y="215" width="3" height="2" fill="#fff"/>
<rect x="176" y="215" width="3" height="2" fill="#fff"/>
<rect x="182" y="215" width="3" height="2" fill="#fff"/>
<rect x="188" y="215" width="3" height="2" fill="#fff"/>
<rect x="194" y="215" width="3" height="2" fill="#fff"/>
<rect x="200" y="215" width="3" height="2" fill="#fff"/>
<rect x="206" y="215" width="3" height="2" fill="#fff"/>
<rect x="211" y="215" width="3" height="2" fill="#fff"/>
<rect x="217" y="215" width="3" height="2" fill="#fff"/>
<rect x="223" y="215" width="3" height="2" fill="#fff"/>
<rect x="229" y="215" width="3" height="2" fill="#fff"/>
<rect x="235" y="215" width="3" height="2" fill="#fff"/>
<rect x="241" y="215" width="3" height="2" fill="#fff"/>
<rect x="247" y="215" width="3" height="2" fill="#fff"/>
<rect x="129" y="221" width="3" height="2" fill="#fff"/>
<rect x="135" y="221" width="3" height="2" fill="#fff"/>
<rect x="141" y="221" width="3" height="2" fill="#fff"/>
<rect x="146" y="221" width="3" height="2" fill="#fff"/>
<rect x="152" y="221" width="3" height="2" fill="#fff"/>
<rect x="158" y="221" width="3" height="2" fill="#fff"/>
<rect x="164" y="221" width="3" height="2" fill="#fff"/>
<rect x="170" y="221" width="3" height="2" fill="#fff"/>
<rect x="176" y="221" width="3" height="2" fill="#fff"/>
<rect x="182" y="221" width="3" height="2" fill="#fff"/>
<rect x="188" y="221" width="3" height="2" fill="#fff"/>
<rect x="194" y="221" width="3" height="2" fill="#fff"/>
<rect x="200" y="221" width="3" height="2" fill="#fff"/>
<rect x="206" y="221" width="3" height="2" fill="#fff"/>
<rect x="211" y="221" width="3" height="2" fill="#fff"/>
<rect x="217" y="221" width="3" height="2" fill="#fff"/>
<rect x="223" y="221" width="3" height="2" fill="#fff"/>
<rect x="229" y="221" width="3" height="2" fill="#fff"/>
<rect x="235" y="221" width="3" height="2" fill="#fff"/>
<rect x="241" y="221" width="3" height="2" fill="#fff"/>
<rect x="247" y="221" width="3" height="2" fill="#fff"/>
<rect x="129" y="227" width="3" height="2" fill="#fff"/>
<rect x="135" y="227" width="3" height="2" fill="#fff"/>
<rect x="141" y="227" width="3" height="2" fill="#fff"/>
<rect x="146" y="227" width="3" height="2" fill="#fff"/>
<rect x="152" y="227" width="3" height="2" fill="#fff"/>
<rect x="158" y="227" width="3" height="2" fill="#fff"/>
<rect x="164" y="227" width="3" height="2" fill="#fff"/>
<rect x="170" y="227" width="3" height="2" fill="#fff"/>
<rect x="176" y="227" width="3" height="2" fill="#fff"/>
<rect x="182" y="227" width="3" height="2" fill="#fff"/>
<rect x="188" y="227" width="3" height="2" fill="#fff"/>
<rect x="194" y="227" width="3" height="2" fill="#fff"/>
<rect x="200" y="227" width="3" height="2" fill="#fff"/>
<rect x="206" y="227" width="3" height="2" fill="#fff"/>
<rect x="211" y="227" width="3" height="2" fill="#fff"/>
<rect x="217" y="227" width="3" height="2" fill="#fff"/>
<rect x="223" y="227" width="3" height="2" fill="#fff"/>
<rect x="229" y="227" width="3" height="2" fill="#fff"/>
<rect x="235" y="227" width="3" height="2" fill="#fff"/>
<rect x="241" y="227" width="3" height="2" fill="#fff"/>
<rect x="247" y="227" width="3" height="2" fill="#fff"/>
<rect x="129" y="233" width="3" height="2" fill="#fff"/>
<rect x="135" y="233" width="3" height="2" fill="#fff"/>
<rect x="141" y="233" width="3" height="2" fill="#fff"/>
<rect x="146" y="233" width="3" height="2" fill="#fff"/>
<rect x="229" y="233" width="3" height="2" fill="#fff"/>
<rect x="235" y="233" width="3" height="2" fill="#fff"/>
<rect x="241" y="233" width="3" height="2" fill="#fff"/>
<rect x="247" y="233" width="3" height="2" fill="#fff"/>
<rect x="129" y="239" width="3" height="2" fill="#fff"/>
<rect x="135" y="239" width="3" height="2" fill="#fff"/>
<rect x="141" y="239" width="3" height="2" fill="#fff"/>
<rect x="146" y="239" width="3" height="2" fill="#fff"/>
<rect x="229" y="239" width="3" height="2" fill="#fff"/>
<rect x="235" y="239" width="3" height="2" fill="#fff"/>
<rect x="241" y="239" width="3" height="2" fill="#fff"/>
<rect x="247" y="239" width="3" height="2" fill="#fff"/>
<rect x="129" y="245" width="3" height="2" fill="#fff"/>
<rect x="135" y="245" width="3" height="2" fill="#fff"/>
<rect x="141" y="245" width="3" height="2" fill="#fff"/>
<rect x="146" y="245" width="3" height="2" fill="#fff"/>
<rect x="229" y="245" width="3" height="2" fill="#fff"/>
<rect x="235" y="245" width="3" height="2" fill="#fff"/>
<rect x="241" y="245" width="3" height="2" fill="#fff"/>
<rect x="247" y="245" width="3" height="2" fill="#fff"/>
<rect x="129" y="250" width="3" height="2" fill="#fff"/>
<rect x="135" y="250" width="3" height="2" fill="#fff"/>
<rect x="141" y="250" width="3" height="2" fill="#fff"/>
<rect x="146" y="250" width="3" height="2" fill="#fff"/>
<rect x="229" y="250" width="3" height="2" fill="#fff"/>
<rect x="235" y="250" width="3" height="2" fill="#fff"/>
<rect x="241" y="250" width="3" height="2" fill="#fff"/>
<rect x="247" y="250" width="3" height="2" fill="#fff"/>
<rect x="129" y="256" width="3" height="2" fill="#fff"/>
<rect x="135" y="256" width="3" height="2" fill="#fff"/>
<rect x="141" y="256" width="3" height="2" fill="#fff"/>
<rect x="146" y="256" width="3" height="2" fill="#fff"/>
<rect x="229" y="256" width="3" height="2" fill="#fff"/>
<rect x="235" y="256" width="3" height="2" fill="#fff"/>
<rect x="241" y="256" width="3" height="2" fill="#fff"/>
<rect x="247" y="256" width="3" height="2" fill="#fff"/>
<rect x="129" y="262" width="3" height="2" fill="#fff"/>
<rect x="135" y="262" width="3" height="2" fill="#fff"/>
<rect x="141" y="262" width="3" height="2" fill="#fff"/>
<rect x="146" y="262" width="3" height="2" fill="#fff"/>
<rect x="229" y="262" width="3" height="2" fill="#fff"/>
<rect x="235" y="262" width="3" height="2" fill="#fff"/>
<rect x="241" y="262" width="3" height="2" fill="#fff"/>
<rect x="247" y="262" width="3" height="2" fill="#fff"/>
<rect x="129" y="268" width="3" height="2" fill="#fff"/>
<rect x="135" y="268" width="3" height="2" fill="#fff"/>
<rect x="141" y="268" width="3" height="2" fill="#fff"/>
<rect x="146" y="268" width="3" height="2" fill="#fff"/>
<rect x="229" y="268" width="3" height="2" fill="#fff"/>
<rect x="235" y="268" width="3" height="2" fill="#fff"/>
<rect x="241" y="268" width="3" height="2" fill="#fff"/>
<rect x="247" y="268" width="3" height="2" fill="#fff"/>
<rect x="129" y="274" width="3" height="2" fill="#fff"/>
<rect x="135" y="274" width="3" height="2" fill="#fff"/>
<rect x="141" y="274" width="3" height="2" fill="#fff"/>
<rect x="146" y="274" width="3" height="2" fill="#fff"/>
<rect x="229" y="274" width="3" height="2" fill="#fff"/>
<rect x="235" y="274" width="3" height="2" fill="#fff"/>
<rect x="241" y="274" width="3" height="2" fill="#fff"/>
<rect x="247" y="274" width="3" height="2" fill="#fff"/>
<rect x="129" y="280" width="3" height="2" fill="#fff"/>
<rect x="135" y="280" width="3" height="2" fill="#fff"/>
<rect x="141" y="280" width="3" height="2" fill="#fff"/>
<rect x="146" y="280" width="3" height="2" fill="#fff"/>
<rect x="229" y="280" width="3" height="2" fill="#fff"/>
<rect x="235" y="280" width="3" height="2" fill="#fff"/>
<rect x="241" y="280" width="3" height="2" fill="#fff"/>
<rect x="247" y="280" width="3" height="2" fill="#fff"/>
<rect x="129" y="286" width="3" height="2" fill="#fff"/>
<rect x="135" y="286" width="3" height="2" fill="#fff"/>
<rect x="141" y="286" width="3" height="2" fill="#fff"/>
<rect x="146" y="286" width="3" height="2" fill="#fff"/>
<rect x="229" y="286" width="3" height="2" fill="#fff"/>
<rect x="235" y="286" width="3" height="2" fill="#fff"/>
<rect x="241" y="286" width="3" height="2" fill="#fff"/>
<rect x="247" y="286" width="3" height="2" fill="#fff"/>
<rect x="129" y="292" width="3" height="2" fill="#fff"/>
<rect x="135" y="292" width="3" height="2" fill="#fff"/>
<rect x="141" y="292" width="3" height="2" fill="#fff"/>
<rect x="146" y="292" width="3" height="2" fill="#fff"/>
<rect x="229" y="292" width="3" height="2" fill="#fff"/>
<rect x="235" y="292" width="3" height="2" fill="#fff"/>
<rect x="241" y="292" width="3" height="2" fill="#fff"/>
<rect x="247" y="292" width="3" height="2" fill="#fff"/>
<rect x="129" y="298" width="3" height="2" fill="#fff"/>
<rect x="135" y="298" width="3" height="2" fill="#fff"/>
<rect x="141" y="298" width="3" height="2" fill="#fff"/>
<rect x="146" y="298" width="3" height="2" fill="#fff"/>
<rect x="229" y="298" width="3" height="2" fill="#fff"/>
<rect x="235" y="298" width="3" height="2" fill="#fff"/>
<rect x="241" y="298" width="3" height="2" fill="#fff"/>
<rect x="247" y="298" width="3" height="2" fill="#fff"/>
<rect x="129" y="304" width="3" height="2" fill="#fff"/>
<rect x="135" y="304" width="3" height="2" fill="#fff"/>
<rect x="141" y="304" width="3" height="2" fill="#fff"/>
<rect x="146" y="304" width="3" height="2" fill="#fff"/>
<rect x="229" y="304" width="3" height="2" fill="#fff"/>
<rect x="235" y="304" width="3" height="2" fill="#fff"/>
<rect x="241" y="304" width="3" height="2" fill="#fff"/>
<rect x="247" y="304" width="3" height="2" fill="#fff"/>
<rect x="129" y="310" width="3" height="2" fill="#fff"/>
<rect x="135" y="310" width="3" height="2" fill="#fff"/>
<rect x="141" y="310" width="3" height="2" fill="#fff"/>
<rect x="146" y="310" width="3" height="2" fill="#fff"/>
<rect x="152" y="310" width="3" height="2" fill="#fff"/>
<rect x="158" y="310" width="3" height="2" fill="#fff"/>
<rect x="164" y="310" width="3" height="2" fill="#fff"/>
<rect x="170" y="310" width="3" height="2" fill="#fff"/>
<rect x="176" y="310" width="3" height="2" fill="#fff"/>
<rect x="182" y="310" width="3" height="2" fill="#fff"/>
<rect x="188" y="310" width="3" height="2" fill="#fff"/>
<rect x="194" y="310" width="3" height="2" fill="#fff"/>
<rect x="200" y="310" width="3" height="2" fill="#fff"/>
<rect x="206" y="310" width="3" height="2" fill="#fff"/>
<rect x="211" y="310" width="3" height="2" fill="#fff"/>
<rect x="217" y="310" width="3" height="2" fill="#fff"/>
<rect x="223" y="310" width="3" height="2" fill="#fff"/>
<rect x="229" y="310" width="3" height="2" fill="#fff"/>
<rect x="235" y="310" width="3" height="2" fill="#fff"/>
<rect x="241" y="310" width="3" height="2" fill="#fff"/>
<rect x="247" y="310" width="3" height="2" fill="#fff"/>
<rect x="129" y="315" width="3" height="2" fill="#fff"/>
<rect x="135" y="315" width="3" height="2" fill="#fff"/>
<rect x="141" y="315" width="3" height="2" fill="#fff"/>
<rect x="146" y="315" width="3" height="2" fill="#fff"/>
<rect x="152" y="315" width="3" height="2" fill="#fff"/>
<rect x="158" y="315" width="3" height="2" fill="#fff"/>
<rect x="164" y="315" width="3" height="2" fill="#fff"/>
<rect x="170" y="315" width="3" height="2" fill="#fff"/>
<rect x="176" y="315" width="3" height="2" fill="#fff"/>
<rect x="182" y="315" width="3" height="2" fill="#fff"/>
<rect x="188" y="315" width="3" height="2" fill="#fff"/>
<rect x="194" y="315" width="3" height="2" fill="#fff"/>
<rect x="200" y="315" width="3" height="2" fill="#fff"/>
<rect x="206" y="315" width="3" height="2" fill="#fff"/>
<rect x="211" y="315" width="3" height="2" fill="#fff"/>
<rect x="217" y="315" width="3" height="2" fill="#fff"/>
<rect x="223" y="315" width="3" height="2" fill="#fff"/>
<rect x="229" y="315" width="3" height="2" fill="#fff"/>
<rect x="235" y="315" width="3" height="2" fill="#fff"/>
<rect x="241" y="315" width="3" height="2" fill="#fff"/>
<rect x="247" y="315" width="3" height="2" fill="#fff"/>
<rect x="129" y="321" width="3" height="2" fill="#fff"/>
<rect x="135" y="321" width="3" height="2" fill="#fff"/>
<rect x="141" y="321" width="3" height="2" fill="#fff"/>
<rect x="146" y="321" width="3" height="2" fill="#fff"/>
<rect x="152" y="321" width="3" height="2" fill="#fff"/>
<rect x="158" y="321" width="3" height="2" fill="#fff"/>
<rect x="164" y="321" width="3" height="2" fill="#fff"/>
<rect x="170" y="321" width="3" height="2" fill="#fff"/>
<rect x="176" y="321" width="3" height="2" fill="#fff"/>
<rect x="182" y="321" width="3" height="2" fill="#fff"/>
<rect x="188" y="321" width="3" height="2" fill="#fff"/>
<rect x="194" y="321" width="3" height="2" fill="#fff"/>
<rect x="200" y="321" width="3" height="2" fill="#fff"/>
<rect x="206" y="321" width="3" height="2" fill="#fff"/>
<rect x="211" y="321" width="3" height="2" fill="#fff"/>
<rect x="217" y="321" width="3" height="2" fill="#fff"/>
<rect x="223" y="321" width="3" height="2" fill="#fff"/>
<rect x="229" y="321" width="3" height="2" fill="#fff"/>
<rect x="235" y="321" width="3" height="2" fill="#fff"/>
<rect x="241" y="321" width="3" height="2" fill="#fff"/>
<rect x="247" y="321" width="3" height="2" fill="#fff"/>
<rect x="129" y="327" width="3" height="2" fill="#fff"/>
<rect x="135" y="327" width="3" height="2" fill="#fff"/>
<rect x="141" y="327" width="3" height="2" fill="#fff"/>
<rect x="146" y="327" width="3" height="2" fill="#fff"/>
<rect x="152" y="327" width="3" height="2" fill="#fff"/>
<rect x="158" y="327" width="3" height="2" fill="#fff"/>
<rect x="164" y="327" width="3" height="2" fill="#fff"/>
<rect x="170" y="327" width="3" height="2" fill="#fff"/>
<rect x="176" y="327" width="3" height="2" fill="#fff"/>
<rect x="182" y="327" width="3" height="2" fill="#fff"/>
<rect x="188" y="327" width="3" height="2" fill="#fff"/>
<rect x="194" y="327" width="3" height="2" fill="#fff"/>
<rect x="200" y="327" width="3" height="2" fill="#fff"/>
<rect x="206" y="327" width="3" height="2" fill="#fff"/>
<rect x="211" y="327" width="3" height="2" fill="#fff"/>
<rect x="217" y="327" width="3" height="2" fill="#fff"/>
<rect x="223" y="327" width="3" height="2" fill="#fff"/>
<rect x="229" y="327" width="3" height="2" fill="#fff"/>
<rect x="235" y="327" width="3" height="2" fill="#fff"/>
<rect x="241" y="327" width="3" height="2" fill="#fff"/>
<rect x="247" y="327" width="3" height="2" fill="#fff"/>
<rect x="154" y="234" width="68" height="69" fill="#fff"/>
<rect x="170" y="259" width="36" height="20" rx="3" fill="#000"/>
<rect x="172" y="261" width="32" height="16" rx="1.5" fill="#fff"/>
<text transform="translate(173,272) scale(0.82,1)" font-size="13.6" letter-spacing="2.65" fill="#000" filter="url(#th)">CPU</text>
<rect x="252" y="189" width="15" height="130" fill="#000"/>
<rect x="257" y="190" width="8" height="127" fill="#fff"/>
<polygon points="257,319 267,319 257,327" fill="#000"/>
<rect x="117" y="197" width="5" height="29" fill="#000"/>
<rect x="118" y="198" width="2" height="27" fill="#fff"/>
<rect x="116" y="201" width="1" height="22" fill="#000"/>
<rect x="121" y="197" width="1" height="3" fill="#fff"/>
<rect x="121" y="223" width="1" height="3" fill="#fff"/>
<rect x="117" y="299" width="5" height="29" fill="#000"/>
<rect x="118" y="300" width="2" height="27" fill="#fff"/>
<rect x="116" y="303" width="1" height="22" fill="#000"/>
<rect x="121" y="299" width="1" height="3" fill="#fff"/>
<rect x="121" y="325" width="1" height="3" fill="#fff"/>
<rect x="296" y="201" width="14" height="7" fill="#000"/>
<rect x="297" y="202" width="12" height="1" fill="#fff"/>
<rect x="297" y="202" width="1" height="5" fill="#fff"/>
<rect x="302" y="202" width="1" height="5" fill="#fff"/>
<rect x="308" y="202" width="1" height="5" fill="#fff"/>
<rect x="315" y="181" width="35" height="19" rx="3" fill="#000"/>
<polygon points="317,194 321,198 311,205" fill="#fff" stroke="#000" stroke-width="2" stroke-linejoin="round"/>
<rect x="317" y="183" width="31" height="15" rx="1.5" fill="#fff"/>
<text transform="translate(322,194) scale(0.82,1)" font-size="13.6" letter-spacing="1.0499999999999998" fill="#000" filter="url(#th)">J31</text>
<rect x="296" y="215" width="14" height="7" fill="#000"/>
<rect x="297" y="216" width="1" height="5" fill="#fff"/>
<rect x="302" y="216" width="1" height="5" fill="#fff"/>
<rect x="308" y="216" width="1" height="5" fill="#fff"/>
<rect x="324" y="209" width="36" height="18" rx="3" fill="#000"/>
<polygon points="327,215 327,221 310,218" fill="#fff" stroke="#000" stroke-width="2" stroke-linejoin="round"/>
<rect x="326" y="211" width="32" height="14" rx="1.5" fill="#fff"/>
<text transform="translate(330,222) scale(0.82,1)" font-size="13.6" letter-spacing="2.25" fill="#000" filter="url(#th)">J29</text>
<rect x="313" y="273" width="14" height="6" fill="#000"/>
<rect x="314" y="274" width="1" height="4" fill="#fff"/>
<rect x="320" y="274" width="1" height="4" fill="#fff"/>
<rect x="325" y="274" width="1" height="4" fill="#fff"/>
<rect x="341" y="267" width="36" height="18" rx="3" fill="#000"/>
<polygon points="344,273 344,279 327,276" fill="#fff" stroke="#000" stroke-width="2" stroke-linejoin="round"/>
<rect x="343" y="269" width="32" height="14" rx="1.5" fill="#fff"/>
<text transform="translate(348,280) scale(0.82,1)" font-size="13.6" letter-spacing="2.25" fill="#000" filter="url(#th)">J28</text>
<rect x="58" y="249" width="14" height="7" fill="#000"/>
<rect x="59" y="250" width="12" height="5" fill="#fff"/>
<rect x="60" y="250" width="4" height="4" fill="#000"/>
<rect x="65" y="250" width="5" height="4" fill="#000"/>
<rect x="44" y="272" width="43" height="19" rx="3" fill="#000"/>
<polygon points="62,275 68,275 65,256" fill="#fff" stroke="#000" stroke-width="2" stroke-linejoin="round"/>
<rect x="46" y="274" width="39" height="15" rx="1.5" fill="#fff"/>
<text transform="translate(50,286) scale(0.82,1)" font-size="13.6" letter-spacing="1.7000000000000002" fill="#000" filter="url(#th)">JP12</text>
<rect x="150" y="353" width="14" height="7" fill="#000"/>
<rect x="151" y="354" width="12" height="5" fill="#fff"/>
<rect x="152" y="354" width="4" height="4" fill="#000"/>
<rect x="157" y="354" width="5" height="4" fill="#000"/>
<rect x="178" y="347" width="42" height="18" rx="3" fill="#000"/>
<polygon points="181,353 181,359 164,356" fill="#fff" stroke="#000" stroke-width="2" stroke-linejoin="round"/>
<rect x="180" y="349" width="38" height="14" rx="1.5" fill="#fff"/>
<text transform="translate(183,360) scale(0.82,1)" font-size="13.6" letter-spacing="1.5499999999999998" fill="#000" filter="url(#th)">JP13</text>
<rect x="509" y="213" width="177" height="19" fill="#000"/>
<rect x="516" y="220" width="33" height="6" fill="#fff"/>
<rect x="559" y="220" width="22" height="6" fill="#fff"/>
<rect x="614" y="220" width="65" height="6" fill="#fff"/>
<rect x="583" y="216" width="29" height="14" rx="1" fill="#fff"/>
<text transform="translate(585,226) scale(0.82,1)" font-size="13.6" letter-spacing="1.0" fill="#000" filter="url(#th)">PC1</text>
<rect x="509" y="258" width="177" height="19" fill="#000"/>
<rect x="516" y="265" width="33" height="6" fill="#fff"/>
<rect x="559" y="265" width="22" height="6" fill="#fff"/>
<rect x="614" y="265" width="65" height="6" fill="#fff"/>
<rect x="583" y="260" width="29" height="14" rx="1" fill="#fff"/>
<text transform="translate(585,271) scale(0.82,1)" font-size="13.6" letter-spacing="1.0" fill="#000" filter="url(#th)">PC2</text>
<rect x="509" y="303" width="177" height="18" fill="#000"/>
<rect x="516" y="310" width="33" height="6" fill="#fff"/>
<rect x="559" y="310" width="22" height="6" fill="#fff"/>
<rect x="614" y="310" width="65" height="6" fill="#fff"/>
<rect x="583" y="305" width="29" height="14" rx="1" fill="#fff"/>
<text transform="translate(585,316) scale(0.82,1)" font-size="13.6" letter-spacing="1.0" fill="#000" filter="url(#th)">PC3</text>
<rect x="509" y="347" width="177" height="19" fill="#000"/>
<rect x="516" y="354" width="33" height="6" fill="#fff"/>
<rect x="559" y="354" width="22" height="6" fill="#fff"/>
<rect x="614" y="354" width="65" height="6" fill="#fff"/>
<rect x="583" y="349" width="29" height="15" rx="1" fill="#fff"/>
<text transform="translate(585,360) scale(0.82,1)" font-size="13.6" letter-spacing="1.0" fill="#000" filter="url(#th)">PC4</text>
<rect x="635" y="237" width="43" height="13" fill="#000"/>
<rect x="636" y="238" width="41" height="11" fill="#fff"/>
<rect x="637" y="239" width="5" height="4" fill="#000"/>
<rect x="637" y="245" width="5" height="3" fill="#000"/>
<rect x="643" y="239" width="5" height="4" fill="#000"/>
<rect x="643" y="245" width="5" height="3" fill="#000"/>
<rect x="649" y="239" width="5" height="4" fill="#000"/>
<rect x="649" y="245" width="5" height="3" fill="#000"/>
<rect x="655" y="239" width="5" height="4" fill="#000"/>
<rect x="655" y="245" width="5" height="3" fill="#000"/>
<rect x="661" y="239" width="5" height="4" fill="#000"/>
<rect x="661" y="245" width="5" height="3" fill="#000"/>
<rect x="667" y="239" width="5" height="4" fill="#000"/>
<rect x="667" y="245" width="5" height="3" fill="#000"/>
<rect x="673" y="239" width="5" height="4" fill="#000"/>
<rect x="673" y="245" width="5" height="3" fill="#000"/>
<rect x="639" y="246" width="2" height="2" fill="#fff"/>
<rect x="585" y="234" width="36" height="19" rx="3" fill="#000"/>
<polygon points="618,240 618,246 635,243" fill="#fff" stroke="#000" stroke-width="2" stroke-linejoin="round"/>
<rect x="587" y="236" width="32" height="15" rx="1.5" fill="#fff"/>
<text transform="translate(591,248) scale(0.82,1)" font-size="13.6" letter-spacing="1.65" fill="#000" filter="url(#th)">J85</text>
<rect x="731" y="230" width="19" height="7" fill="#000"/>
<rect x="737" y="231" width="1" height="5" fill="#fff"/>
<rect x="743" y="231" width="1" height="5" fill="#fff"/>
<rect x="745" y="232" width="3" height="3" fill="#fff"/>
<rect x="732" y="235" width="17" height="1" fill="#fff"/>
<rect x="731" y="239" width="19" height="7" fill="#000"/>
<rect x="737" y="240" width="1" height="5" fill="#fff"/>
<rect x="743" y="240" width="1" height="5" fill="#fff"/>
<rect x="745" y="241" width="3" height="3" fill="#fff"/>
<rect x="731" y="249" width="19" height="7" fill="#000"/>
<rect x="737" y="250" width="1" height="5" fill="#fff"/>
<rect x="743" y="250" width="1" height="5" fill="#fff"/>
<rect x="745" y="251" width="3" height="3" fill="#fff"/>
<rect x="690" y="210" width="35" height="18" rx="3" fill="#000"/>
<polygon points="720,224 723,220 731,234" fill="#fff" stroke="#000" stroke-width="2" stroke-linejoin="round"/>
<rect x="692" y="212" width="31" height="14" rx="1.5" fill="#fff"/>
<text transform="translate(697,223) scale(0.82,1)" font-size="13.6" letter-spacing="2.25" fill="#000" filter="url(#th)">J38</text>
<rect x="681" y="233" width="35" height="18" rx="3" fill="#000"/>
<polygon points="713,239 713,245 731,242" fill="#fff" stroke="#000" stroke-width="2" stroke-linejoin="round"/>
<rect x="683" y="235" width="31" height="14" rx="1.5" fill="#fff"/>
<text transform="translate(688,247) scale(0.82,1)" font-size="13.6" letter-spacing="1.65" fill="#000" filter="url(#th)">J36</text>
<rect x="690" y="258" width="34" height="19" rx="3" fill="#000"/>
<polygon points="719,261 722,264 731,250" fill="#fff" stroke="#000" stroke-width="2" stroke-linejoin="round"/>
<rect x="692" y="260" width="30" height="15" rx="1.5" fill="#fff"/>
<text transform="translate(696,271) scale(0.82,1)" font-size="13.6" letter-spacing="1.65" fill="#000" filter="url(#th)">J37</text>
<rect x="719" y="325" width="7" height="14" fill="#000"/>
<rect x="720" y="326" width="5" height="1" fill="#fff"/>
<rect x="720" y="332" width="5" height="1" fill="#fff"/>
<rect x="720" y="337" width="5" height="1" fill="#fff"/>
<rect x="728" y="325" width="7" height="14" fill="#000"/>
<rect x="729" y="326" width="5" height="1" fill="#fff"/>
<rect x="729" y="332" width="5" height="1" fill="#fff"/>
<rect x="729" y="337" width="5" height="1" fill="#fff"/>
<rect x="737" y="325" width="7" height="14" fill="#000"/>
<rect x="738" y="326" width="5" height="1" fill="#fff"/>
<rect x="738" y="332" width="5" height="1" fill="#fff"/>
<rect x="738" y="337" width="5" height="1" fill="#fff"/>
<rect x="738" y="326" width="1" height="12" fill="#fff"/>
<rect x="716" y="291" width="33" height="19" rx="3" fill="#000"/>
<polygon points="728,307 734,307 731,325" fill="#fff" stroke="#000" stroke-width="2" stroke-linejoin="round"/>
<rect x="718" y="293" width="29" height="15" rx="1.5" fill="#fff"/>
<text transform="translate(721,304) scale(0.82,1)" font-size="13.6" letter-spacing="2.25" fill="#000" filter="url(#th)">J76</text>
<rect x="670" y="323" width="35" height="18" rx="3" fill="#000"/>
<polygon points="702,329 702,335 719,332" fill="#fff" stroke="#000" stroke-width="2" stroke-linejoin="round"/>
<rect x="672" y="325" width="31" height="14" rx="1.5" fill="#fff"/>
<text transform="translate(677,336) scale(0.82,1)" font-size="13.6" letter-spacing="1.0499999999999998" fill="#000" filter="url(#th)">J75</text>
<rect x="758" y="325" width="36" height="16" rx="3" fill="#000"/>
<polygon points="761,330 761,336 744,332" fill="#fff" stroke="#000" stroke-width="2" stroke-linejoin="round"/>
<rect x="760" y="327" width="32" height="12" rx="1.5" fill="#fff"/>
<text transform="translate(764,336) scale(0.82,1)" font-size="13.6" letter-spacing="2.25" fill="#000" filter="url(#th)">J77</text>
<polygon points="110,380 169,380 169,383 172,383 172,443 169,443 169,446 109,446 109,443 106,443 106,386 109,386 109,383 110,383" fill="#000"/>
<rect x="112" y="380" width="1" height="3" fill="#fff"/>
<rect x="114" y="443" width="1" height="3" fill="#fff"/>
<rect x="106" y="387" width="3" height="1" fill="#fff"/>
<rect x="169" y="389" width="3" height="1" fill="#fff"/>
<rect x="123" y="380" width="1" height="3" fill="#fff"/>
<rect x="125" y="443" width="1" height="3" fill="#fff"/>
<rect x="106" y="398" width="3" height="1" fill="#fff"/>
<rect x="169" y="400" width="3" height="1" fill="#fff"/>
<rect x="126" y="380" width="1" height="3" fill="#fff"/>
<rect x="128" y="443" width="1" height="3" fill="#fff"/>
<rect x="106" y="401" width="3" height="1" fill="#fff"/>
<rect x="169" y="403" width="3" height="1" fill="#fff"/>
<rect x="129" y="380" width="1" height="3" fill="#fff"/>
<rect x="131" y="443" width="1" height="3" fill="#fff"/>
<rect x="106" y="404" width="3" height="1" fill="#fff"/>
<rect x="169" y="406" width="3" height="1" fill="#fff"/>
<rect x="140" y="380" width="1" height="3" fill="#fff"/>
<rect x="142" y="443" width="1" height="3" fill="#fff"/>
<rect x="106" y="415" width="3" height="1" fill="#fff"/>
<rect x="169" y="417" width="3" height="1" fill="#fff"/>
<rect x="143" y="380" width="1" height="3" fill="#fff"/>
<rect x="145" y="443" width="1" height="3" fill="#fff"/>
<rect x="106" y="418" width="3" height="1" fill="#fff"/>
<rect x="169" y="420" width="3" height="1" fill="#fff"/>
<rect x="146" y="380" width="1" height="3" fill="#fff"/>
<rect x="148" y="443" width="1" height="3" fill="#fff"/>
<rect x="106" y="421" width="3" height="1" fill="#fff"/>
<rect x="169" y="423" width="3" height="1" fill="#fff"/>
<rect x="157" y="380" width="1" height="3" fill="#fff"/>
<rect x="159" y="443" width="1" height="3" fill="#fff"/>
<rect x="106" y="432" width="3" height="1" fill="#fff"/>
<rect x="169" y="434" width="3" height="1" fill="#fff"/>
<rect x="160" y="380" width="1" height="3" fill="#fff"/>
<rect x="162" y="443" width="1" height="3" fill="#fff"/>
<rect x="106" y="435" width="3" height="1" fill="#fff"/>
<rect x="169" y="437" width="3" height="1" fill="#fff"/>
<rect x="163" y="380" width="1" height="3" fill="#fff"/>
<rect x="165" y="443" width="1" height="3" fill="#fff"/>
<rect x="106" y="438" width="3" height="1" fill="#fff"/>
<rect x="169" y="440" width="3" height="1" fill="#fff"/>
<polygon points="185,380 244,380 244,383 247,383 247,443 244,443 244,446 184,446 184,443 181,443 181,386 184,386 184,383 185,383" fill="#000"/>
<rect x="187" y="380" width="1" height="3" fill="#fff"/>
<rect x="189" y="443" width="1" height="3" fill="#fff"/>
<rect x="181" y="387" width="3" height="1" fill="#fff"/>
<rect x="244" y="389" width="3" height="1" fill="#fff"/>
<rect x="198" y="380" width="1" height="3" fill="#fff"/>
<rect x="200" y="443" width="1" height="3" fill="#fff"/>
<rect x="181" y="398" width="3" height="1" fill="#fff"/>
<rect x="244" y="400" width="3" height="1" fill="#fff"/>
<rect x="201" y="380" width="1" height="3" fill="#fff"/>
<rect x="203" y="443" width="1" height="3" fill="#fff"/>
<rect x="181" y="401" width="3" height="1" fill="#fff"/>
<rect x="244" y="403" width="3" height="1" fill="#fff"/>
<rect x="204" y="380" width="1" height="3" fill="#fff"/>
<rect x="206" y="443" width="1" height="3" fill="#fff"/>
<rect x="181" y="404" width="3" height="1" fill="#fff"/>
<rect x="244" y="406" width="3" height="1" fill="#fff"/>
<rect x="215" y="380" width="1" height="3" fill="#fff"/>
<rect x="217" y="443" width="1" height="3" fill="#fff"/>
<rect x="181" y="415" width="3" height="1" fill="#fff"/>
<rect x="244" y="417" width="3" height="1" fill="#fff"/>
<rect x="218" y="380" width="1" height="3" fill="#fff"/>
<rect x="220" y="443" width="1" height="3" fill="#fff"/>
<rect x="181" y="418" width="3" height="1" fill="#fff"/>
<rect x="244" y="420" width="3" height="1" fill="#fff"/>
<rect x="221" y="380" width="1" height="3" fill="#fff"/>
<rect x="223" y="443" width="1" height="3" fill="#fff"/>
<rect x="181" y="421" width="3" height="1" fill="#fff"/>
<rect x="244" y="423" width="3" height="1" fill="#fff"/>
<rect x="232" y="380" width="1" height="3" fill="#fff"/>
<rect x="234" y="443" width="1" height="3" fill="#fff"/>
<rect x="181" y="432" width="3" height="1" fill="#fff"/>
<rect x="244" y="434" width="3" height="1" fill="#fff"/>
<rect x="235" y="380" width="1" height="3" fill="#fff"/>
<rect x="237" y="443" width="1" height="3" fill="#fff"/>
<rect x="181" y="435" width="3" height="1" fill="#fff"/>
<rect x="244" y="437" width="3" height="1" fill="#fff"/>
<rect x="238" y="380" width="1" height="3" fill="#fff"/>
<rect x="240" y="443" width="1" height="3" fill="#fff"/>
<rect x="181" y="438" width="3" height="1" fill="#fff"/>
<rect x="244" y="440" width="3" height="1" fill="#fff"/>
<polygon points="110,452 169,452 169,455 172,455 172,515 169,515 169,518 109,518 109,515 106,515 106,458 109,458 109,455 110,455" fill="#000"/>
<rect x="112" y="452" width="1" height="3" fill="#fff"/>
<rect x="114" y="515" width="1" height="3" fill="#fff"/>
<rect x="106" y="459" width="3" height="1" fill="#fff"/>
<rect x="169" y="461" width="3" height="1" fill="#fff"/>
<rect x="123" y="452" width="1" height="3" fill="#fff"/>
<rect x="125" y="515" width="1" height="3" fill="#fff"/>
<rect x="106" y="470" width="3" height="1" fill="#fff"/>
<rect x="169" y="472" width="3" height="1" fill="#fff"/>
<rect x="126" y="452" width="1" height="3" fill="#fff"/>
<rect x="128" y="515" width="1" height="3" fill="#fff"/>
<rect x="106" y="473" width="3" height="1" fill="#fff"/>
<rect x="169" y="475" width="3" height="1" fill="#fff"/>
<rect x="129" y="452" width="1" height="3" fill="#fff"/>
<rect x="131" y="515" width="1" height="3" fill="#fff"/>
<rect x="106" y="476" width="3" height="1" fill="#fff"/>
<rect x="169" y="478" width="3" height="1" fill="#fff"/>
<rect x="140" y="452" width="1" height="3" fill="#fff"/>
<rect x="142" y="515" width="1" height="3" fill="#fff"/>
<rect x="106" y="487" width="3" height="1" fill="#fff"/>
<rect x="169" y="489" width="3" height="1" fill="#fff"/>
<rect x="143" y="452" width="1" height="3" fill="#fff"/>
<rect x="145" y="515" width="1" height="3" fill="#fff"/>
<rect x="106" y="490" width="3" height="1" fill="#fff"/>
<rect x="169" y="492" width="3" height="1" fill="#fff"/>
<rect x="146" y="452" width="1" height="3" fill="#fff"/>
<rect x="148" y="515" width="1" height="3" fill="#fff"/>
<rect x="106" y="493" width="3" height="1" fill="#fff"/>
<rect x="169" y="495" width="3" height="1" fill="#fff"/>
<rect x="157" y="452" width="1" height="3" fill="#fff"/>
<rect x="159" y="515" width="1" height="3" fill="#fff"/>
<rect x="106" y="504" width="3" height="1" fill="#fff"/>
<rect x="169" y="506" width="3" height="1" fill="#fff"/>
<rect x="160" y="452" width="1" height="3" fill="#fff"/>
<rect x="162" y="515" width="1" height="3" fill="#fff"/>
<rect x="106" y="507" width="3" height="1" fill="#fff"/>
<rect x="169" y="509" width="3" height="1" fill="#fff"/>
<rect x="163" y="452" width="1" height="3" fill="#fff"/>
<rect x="165" y="515" width="1" height="3" fill="#fff"/>
<rect x="106" y="510" width="3" height="1" fill="#fff"/>
<rect x="169" y="512" width="3" height="1" fill="#fff"/>
<polygon points="185,452 244,452 244,455 247,455 247,515 244,515 244,518 184,518 184,515 181,515 181,458 184,458 184,455 185,455" fill="#000"/>
<rect x="187" y="452" width="1" height="3" fill="#fff"/>
<rect x="189" y="515" width="1" height="3" fill="#fff"/>
<rect x="181" y="459" width="3" height="1" fill="#fff"/>
<rect x="244" y="461" width="3" height="1" fill="#fff"/>
<rect x="198" y="452" width="1" height="3" fill="#fff"/>
<rect x="200" y="515" width="1" height="3" fill="#fff"/>
<rect x="181" y="470" width="3" height="1" fill="#fff"/>
<rect x="244" y="472" width="3" height="1" fill="#fff"/>
<rect x="201" y="452" width="1" height="3" fill="#fff"/>
<rect x="203" y="515" width="1" height="3" fill="#fff"/>
<rect x="181" y="473" width="3" height="1" fill="#fff"/>
<rect x="244" y="475" width="3" height="1" fill="#fff"/>
<rect x="204" y="452" width="1" height="3" fill="#fff"/>
<rect x="206" y="515" width="1" height="3" fill="#fff"/>
<rect x="181" y="476" width="3" height="1" fill="#fff"/>
<rect x="244" y="478" width="3" height="1" fill="#fff"/>
<rect x="215" y="452" width="1" height="3" fill="#fff"/>
<rect x="217" y="515" width="1" height="3" fill="#fff"/>
<rect x="181" y="487" width="3" height="1" fill="#fff"/>
<rect x="244" y="489" width="3" height="1" fill="#fff"/>
<rect x="218" y="452" width="1" height="3" fill="#fff"/>
<rect x="220" y="515" width="1" height="3" fill="#fff"/>
<rect x="181" y="490" width="3" height="1" fill="#fff"/>
<rect x="244" y="492" width="3" height="1" fill="#fff"/>
<rect x="221" y="452" width="1" height="3" fill="#fff"/>
<rect x="223" y="515" width="1" height="3" fill="#fff"/>
<rect x="181" y="493" width="3" height="1" fill="#fff"/>
<rect x="244" y="495" width="3" height="1" fill="#fff"/>
<rect x="232" y="452" width="1" height="3" fill="#fff"/>
<rect x="234" y="515" width="1" height="3" fill="#fff"/>
<rect x="181" y="504" width="3" height="1" fill="#fff"/>
<rect x="244" y="506" width="3" height="1" fill="#fff"/>
<rect x="235" y="452" width="1" height="3" fill="#fff"/>
<rect x="237" y="515" width="1" height="3" fill="#fff"/>
<rect x="181" y="507" width="3" height="1" fill="#fff"/>
<rect x="244" y="509" width="3" height="1" fill="#fff"/>
<rect x="238" y="452" width="1" height="3" fill="#fff"/>
<rect x="240" y="515" width="1" height="3" fill="#fff"/>
<rect x="181" y="510" width="3" height="1" fill="#fff"/>
<rect x="244" y="512" width="3" height="1" fill="#fff"/>
<rect x="151" y="441" width="49" height="15" fill="#000"/>
<rect x="153" y="442" width="45" height="13" fill="#fff"/>
<text transform="translate(154,452) scale(0.82,1)" font-size="13.0" letter-spacing="1.7" fill="#000" filter="url(#th)">CACHE</text>
<rect x="317" y="415" width="278" height="16" fill="#000"/>
<rect x="318" y="416" width="276" height="14" fill="#fff"/>
<rect x="318" y="418" width="7" height="1" fill="#000"/>
<rect x="318" y="425" width="7" height="1" fill="#000"/>
<rect x="325" y="416" width="4" height="14" fill="#000"/>
<rect x="329" y="417" width="10" height="1" fill="#000"/>
<rect x="338" y="417" width="1" height="9" fill="#000"/>
<rect x="334" y="425" width="5" height="1" fill="#000"/>
<rect x="334" y="423" width="1" height="7" fill="#000"/>
<rect x="330" y="423" width="5" height="1" fill="#000"/>
<rect x="330" y="423" width="1" height="3" fill="#000"/>
<rect x="329" y="425" width="2" height="1" fill="#000"/>
<rect x="341" y="417" width="230" height="12" fill="#000"/>
<rect x="343" y="419" width="1" height="4" fill="#fff"/>
<rect x="346" y="419" width="1" height="4" fill="#fff"/>
<rect x="349" y="419" width="1" height="4" fill="#fff"/>
<rect x="352" y="419" width="1" height="4" fill="#fff"/>
<rect x="355" y="419" width="1" height="4" fill="#fff"/>
<rect x="358" y="419" width="1" height="4" fill="#fff"/>
<rect x="361" y="419" width="1" height="4" fill="#fff"/>
<rect x="364" y="419" width="1" height="4" fill="#fff"/>
<rect x="367" y="419" width="1" height="4" fill="#fff"/>
<rect x="370" y="419" width="1" height="4" fill="#fff"/>
<rect x="373" y="419" width="1" height="4" fill="#fff"/>
<rect x="376" y="419" width="1" height="4" fill="#fff"/>
<rect x="379" y="419" width="1" height="4" fill="#fff"/>
<rect x="382" y="419" width="1" height="4" fill="#fff"/>
<rect x="385" y="419" width="1" height="4" fill="#fff"/>
<rect x="388" y="419" width="1" height="4" fill="#fff"/>
<rect x="391" y="419" width="1" height="4" fill="#fff"/>
<rect x="394" y="419" width="1" height="4" fill="#fff"/>
<rect x="397" y="419" width="1" height="4" fill="#fff"/>
<rect x="400" y="419" width="1" height="4" fill="#fff"/>
<rect x="403" y="419" width="1" height="4" fill="#fff"/>
<rect x="406" y="419" width="1" height="4" fill="#fff"/>
<rect x="409" y="419" width="1" height="4" fill="#fff"/>
<rect x="412" y="419" width="1" height="4" fill="#fff"/>
<rect x="415" y="419" width="1" height="4" fill="#fff"/>
<rect x="418" y="419" width="1" height="4" fill="#fff"/>
<rect x="421" y="419" width="1" height="4" fill="#fff"/>
<rect x="424" y="419" width="1" height="4" fill="#fff"/>
<rect x="427" y="419" width="1" height="4" fill="#fff"/>
<rect x="430" y="419" width="1" height="4" fill="#fff"/>
<rect x="433" y="419" width="1" height="4" fill="#fff"/>
<rect x="436" y="419" width="1" height="4" fill="#fff"/>
<rect x="439" y="419" width="1" height="4" fill="#fff"/>
<rect x="442" y="419" width="1" height="4" fill="#fff"/>
<rect x="445" y="419" width="1" height="4" fill="#fff"/>
<rect x="448" y="419" width="1" height="4" fill="#fff"/>
<rect x="451" y="419" width="1" height="4" fill="#fff"/>
<rect x="454" y="419" width="1" height="4" fill="#fff"/>
<rect x="457" y="419" width="1" height="4" fill="#fff"/>
<rect x="460" y="419" width="1" height="4" fill="#fff"/>
<rect x="463" y="419" width="1" height="4" fill="#fff"/>
<rect x="466" y="419" width="1" height="4" fill="#fff"/>
<rect x="469" y="419" width="1" height="4" fill="#fff"/>
<rect x="472" y="419" width="1" height="4" fill="#fff"/>
<rect x="475" y="419" width="1" height="4" fill="#fff"/>
<rect x="478" y="419" width="1" height="4" fill="#fff"/>
<rect x="481" y="419" width="1" height="4" fill="#fff"/>
<rect x="484" y="419" width="1" height="4" fill="#fff"/>
<rect x="487" y="419" width="1" height="4" fill="#fff"/>
<rect x="490" y="419" width="1" height="4" fill="#fff"/>
<rect x="493" y="419" width="1" height="4" fill="#fff"/>
<rect x="496" y="419" width="1" height="4" fill="#fff"/>
<rect x="499" y="419" width="1" height="4" fill="#fff"/>
<rect x="502" y="419" width="1" height="4" fill="#fff"/>
<rect x="505" y="419" width="1" height="4" fill="#fff"/>
<rect x="508" y="419" width="1" height="4" fill="#fff"/>
<rect x="511" y="419" width="1" height="4" fill="#fff"/>
<rect x="514" y="419" width="1" height="4" fill="#fff"/>
<rect x="517" y="419" width="1" height="4" fill="#fff"/>
<rect x="520" y="419" width="1" height="4" fill="#fff"/>
<rect x="523" y="419" width="1" height="4" fill="#fff"/>
<rect x="526" y="419" width="1" height="4" fill="#fff"/>
<rect x="529" y="419" width="1" height="4" fill="#fff"/>
<rect x="532" y="419" width="1" height="4" fill="#fff"/>
<rect x="535" y="419" width="1" height="4" fill="#fff"/>
<rect x="538" y="419" width="1" height="4" fill="#fff"/>
<rect x="541" y="419" width="1" height="4" fill="#fff"/>
<rect x="544" y="419" width="1" height="4" fill="#fff"/>
<rect x="547" y="419" width="1" height="4" fill="#fff"/>
<rect x="550" y="419" width="1" height="4" fill="#fff"/>
<rect x="553" y="419" width="1" height="4" fill="#fff"/>
<rect x="556" y="419" width="1" height="4" fill="#fff"/>
<rect x="559" y="419" width="1" height="4" fill="#fff"/>
<rect x="562" y="419" width="1" height="4" fill="#fff"/>
<rect x="565" y="419" width="1" height="4" fill="#fff"/>
<rect x="568" y="419" width="1" height="4" fill="#fff"/>
<rect x="451" y="416" width="9" height="6" fill="#fff"/>
<rect x="573" y="417" width="10" height="1" fill="#000"/>
<rect x="573" y="417" width="1" height="9" fill="#000"/>
<rect x="573" y="425" width="5" height="1" fill="#000"/>
<rect x="577" y="423" width="1" height="7" fill="#000"/>
<rect x="577" y="423" width="5" height="1" fill="#000"/>
<rect x="581" y="423" width="1" height="3" fill="#000"/>
<rect x="583" y="416" width="4" height="14" fill="#000"/>
<rect x="587" y="418" width="7" height="1" fill="#000"/>
<rect x="587" y="425" width="7" height="1" fill="#000"/>
<rect x="317" y="432" width="278" height="16" fill="#000"/>
<rect x="318" y="433" width="276" height="14" fill="#fff"/>
<rect x="318" y="435" width="7" height="1" fill="#000"/>
<rect x="318" y="442" width="7" height="1" fill="#000"/>
<rect x="325" y="433" width="4" height="14" fill="#000"/>
<rect x="329" y="434" width="10" height="1" fill="#000"/>
<rect x="338" y="434" width="1" height="9" fill="#000"/>
<rect x="334" y="442" width="5" height="1" fill="#000"/>
<rect x="334" y="440" width="1" height="7" fill="#000"/>
<rect x="330" y="440" width="5" height="1" fill="#000"/>
<rect x="330" y="440" width="1" height="3" fill="#000"/>
<rect x="329" y="442" width="2" height="1" fill="#000"/>
<rect x="341" y="434" width="230" height="12" fill="#000"/>
<rect x="343" y="436" width="1" height="4" fill="#fff"/>
<rect x="346" y="436" width="1" height="4" fill="#fff"/>
<rect x="349" y="436" width="1" height="4" fill="#fff"/>
<rect x="352" y="436" width="1" height="4" fill="#fff"/>
<rect x="355" y="436" width="1" height="4" fill="#fff"/>
<rect x="358" y="436" width="1" height="4" fill="#fff"/>
<rect x="361" y="436" width="1" height="4" fill="#fff"/>
<rect x="364" y="436" width="1" height="4" fill="#fff"/>
<rect x="367" y="436" width="1" height="4" fill="#fff"/>
<rect x="370" y="436" width="1" height="4" fill="#fff"/>
<rect x="373" y="436" width="1" height="4" fill="#fff"/>
<rect x="376" y="436" width="1" height="4" fill="#fff"/>
<rect x="379" y="436" width="1" height="4" fill="#fff"/>
<rect x="382" y="436" width="1" height="4" fill="#fff"/>
<rect x="385" y="436" width="1" height="4" fill="#fff"/>
<rect x="388" y="436" width="1" height="4" fill="#fff"/>
<rect x="391" y="436" width="1" height="4" fill="#fff"/>
<rect x="394" y="436" width="1" height="4" fill="#fff"/>
<rect x="397" y="436" width="1" height="4" fill="#fff"/>
<rect x="400" y="436" width="1" height="4" fill="#fff"/>
<rect x="403" y="436" width="1" height="4" fill="#fff"/>
<rect x="406" y="436" width="1" height="4" fill="#fff"/>
<rect x="409" y="436" width="1" height="4" fill="#fff"/>
<rect x="412" y="436" width="1" height="4" fill="#fff"/>
<rect x="415" y="436" width="1" height="4" fill="#fff"/>
<rect x="418" y="436" width="1" height="4" fill="#fff"/>
<rect x="421" y="436" width="1" height="4" fill="#fff"/>
<rect x="424" y="436" width="1" height="4" fill="#fff"/>
<rect x="427" y="436" width="1" height="4" fill="#fff"/>
<rect x="430" y="436" width="1" height="4" fill="#fff"/>
<rect x="433" y="436" width="1" height="4" fill="#fff"/>
<rect x="436" y="436" width="1" height="4" fill="#fff"/>
<rect x="439" y="436" width="1" height="4" fill="#fff"/>
<rect x="442" y="436" width="1" height="4" fill="#fff"/>
<rect x="445" y="436" width="1" height="4" fill="#fff"/>
<rect x="448" y="436" width="1" height="4" fill="#fff"/>
<rect x="451" y="436" width="1" height="4" fill="#fff"/>
<rect x="454" y="436" width="1" height="4" fill="#fff"/>
<rect x="457" y="436" width="1" height="4" fill="#fff"/>
<rect x="460" y="436" width="1" height="4" fill="#fff"/>
<rect x="463" y="436" width="1" height="4" fill="#fff"/>
<rect x="466" y="436" width="1" height="4" fill="#fff"/>
<rect x="469" y="436" width="1" height="4" fill="#fff"/>
<rect x="472" y="436" width="1" height="4" fill="#fff"/>
<rect x="475" y="436" width="1" height="4" fill="#fff"/>
<rect x="478" y="436" width="1" height="4" fill="#fff"/>
<rect x="481" y="436" width="1" height="4" fill="#fff"/>
<rect x="484" y="436" width="1" height="4" fill="#fff"/>
<rect x="487" y="436" width="1" height="4" fill="#fff"/>
<rect x="490" y="436" width="1" height="4" fill="#fff"/>
<rect x="493" y="436" width="1" height="4" fill="#fff"/>
<rect x="496" y="436" width="1" height="4" fill="#fff"/>
<rect x="499" y="436" width="1" height="4" fill="#fff"/>
<rect x="502" y="436" width="1" height="4" fill="#fff"/>
<rect x="505" y="436" width="1" height="4" fill="#fff"/>
<rect x="508" y="436" width="1" height="4" fill="#fff"/>
<rect x="511" y="436" width="1" height="4" fill="#fff"/>
<rect x="514" y="436" width="1" height="4" fill="#fff"/>
<rect x="517" y="436" width="1" height="4" fill="#fff"/>
<rect x="520" y="436" width="1" height="4" fill="#fff"/>
<rect x="523" y="436" width="1" height="4" fill="#fff"/>
<rect x="526" y="436" width="1" height="4" fill="#fff"/>
<rect x="529" y="436" width="1" height="4" fill="#fff"/>
<rect x="532" y="436" width="1" height="4" fill="#fff"/>
<rect x="535" y="436" width="1" height="4" fill="#fff"/>
<rect x="538" y="436" width="1" height="4" fill="#fff"/>
<rect x="541" y="436" width="1" height="4" fill="#fff"/>
<rect x="544" y="436" width="1" height="4" fill="#fff"/>
<rect x="547" y="436" width="1" height="4" fill="#fff"/>
<rect x="550" y="436" width="1" height="4" fill="#fff"/>
<rect x="553" y="436" width="1" height="4" fill="#fff"/>
<rect x="556" y="436" width="1" height="4" fill="#fff"/>
<rect x="559" y="436" width="1" height="4" fill="#fff"/>
<rect x="562" y="436" width="1" height="4" fill="#fff"/>
<rect x="565" y="436" width="1" height="4" fill="#fff"/>
<rect x="568" y="436" width="1" height="4" fill="#fff"/>
<rect x="451" y="441" width="9" height="5" fill="#fff"/>
<rect x="573" y="434" width="10" height="1" fill="#000"/>
<rect x="573" y="434" width="1" height="9" fill="#000"/>
<rect x="573" y="442" width="5" height="1" fill="#000"/>
<rect x="577" y="440" width="1" height="7" fill="#000"/>
<rect x="577" y="440" width="5" height="1" fill="#000"/>
<rect x="581" y="440" width="1" height="3" fill="#000"/>
<rect x="583" y="433" width="4" height="14" fill="#000"/>
<rect x="587" y="435" width="7" height="1" fill="#000"/>
<rect x="587" y="442" width="7" height="1" fill="#000"/>
<rect x="317" y="449" width="278" height="16" fill="#000"/>
<rect x="318" y="450" width="276" height="14" fill="#fff"/>
<rect x="318" y="452" width="7" height="1" fill="#000"/>
<rect x="318" y="459" width="7" height="1" fill="#000"/>
<rect x="325" y="450" width="4" height="14" fill="#000"/>
<rect x="329" y="451" width="10" height="1" fill="#000"/>
<rect x="338" y="451" width="1" height="9" fill="#000"/>
<rect x="334" y="459" width="5" height="1" fill="#000"/>
<rect x="334" y="457" width="1" height="7" fill="#000"/>
<rect x="330" y="457" width="5" height="1" fill="#000"/>
<rect x="330" y="457" width="1" height="3" fill="#000"/>
<rect x="329" y="459" width="2" height="1" fill="#000"/>
<rect x="341" y="451" width="230" height="12" fill="#000"/>
<rect x="343" y="453" width="1" height="4" fill="#fff"/>
<rect x="346" y="453" width="1" height="4" fill="#fff"/>
<rect x="349" y="453" width="1" height="4" fill="#fff"/>
<rect x="352" y="453" width="1" height="4" fill="#fff"/>
<rect x="355" y="453" width="1" height="4" fill="#fff"/>
<rect x="358" y="453" width="1" height="4" fill="#fff"/>
<rect x="361" y="453" width="1" height="4" fill="#fff"/>
<rect x="364" y="453" width="1" height="4" fill="#fff"/>
<rect x="367" y="453" width="1" height="4" fill="#fff"/>
<rect x="370" y="453" width="1" height="4" fill="#fff"/>
<rect x="373" y="453" width="1" height="4" fill="#fff"/>
<rect x="376" y="453" width="1" height="4" fill="#fff"/>
<rect x="379" y="453" width="1" height="4" fill="#fff"/>
<rect x="382" y="453" width="1" height="4" fill="#fff"/>
<rect x="385" y="453" width="1" height="4" fill="#fff"/>
<rect x="388" y="453" width="1" height="4" fill="#fff"/>
<rect x="391" y="453" width="1" height="4" fill="#fff"/>
<rect x="394" y="453" width="1" height="4" fill="#fff"/>
<rect x="397" y="453" width="1" height="4" fill="#fff"/>
<rect x="400" y="453" width="1" height="4" fill="#fff"/>
<rect x="403" y="453" width="1" height="4" fill="#fff"/>
<rect x="406" y="453" width="1" height="4" fill="#fff"/>
<rect x="409" y="453" width="1" height="4" fill="#fff"/>
<rect x="412" y="453" width="1" height="4" fill="#fff"/>
<rect x="415" y="453" width="1" height="4" fill="#fff"/>
<rect x="418" y="453" width="1" height="4" fill="#fff"/>
<rect x="421" y="453" width="1" height="4" fill="#fff"/>
<rect x="424" y="453" width="1" height="4" fill="#fff"/>
<rect x="427" y="453" width="1" height="4" fill="#fff"/>
<rect x="430" y="453" width="1" height="4" fill="#fff"/>
<rect x="433" y="453" width="1" height="4" fill="#fff"/>
<rect x="436" y="453" width="1" height="4" fill="#fff"/>
<rect x="439" y="453" width="1" height="4" fill="#fff"/>
<rect x="442" y="453" width="1" height="4" fill="#fff"/>
<rect x="445" y="453" width="1" height="4" fill="#fff"/>
<rect x="448" y="453" width="1" height="4" fill="#fff"/>
<rect x="451" y="453" width="1" height="4" fill="#fff"/>
<rect x="454" y="453" width="1" height="4" fill="#fff"/>
<rect x="457" y="453" width="1" height="4" fill="#fff"/>
<rect x="460" y="453" width="1" height="4" fill="#fff"/>
<rect x="463" y="453" width="1" height="4" fill="#fff"/>
<rect x="466" y="453" width="1" height="4" fill="#fff"/>
<rect x="469" y="453" width="1" height="4" fill="#fff"/>
<rect x="472" y="453" width="1" height="4" fill="#fff"/>
<rect x="475" y="453" width="1" height="4" fill="#fff"/>
<rect x="478" y="453" width="1" height="4" fill="#fff"/>
<rect x="481" y="453" width="1" height="4" fill="#fff"/>
<rect x="484" y="453" width="1" height="4" fill="#fff"/>
<rect x="487" y="453" width="1" height="4" fill="#fff"/>
<rect x="490" y="453" width="1" height="4" fill="#fff"/>
<rect x="493" y="453" width="1" height="4" fill="#fff"/>
<rect x="496" y="453" width="1" height="4" fill="#fff"/>
<rect x="499" y="453" width="1" height="4" fill="#fff"/>
<rect x="502" y="453" width="1" height="4" fill="#fff"/>
<rect x="505" y="453" width="1" height="4" fill="#fff"/>
<rect x="508" y="453" width="1" height="4" fill="#fff"/>
<rect x="511" y="453" width="1" height="4" fill="#fff"/>
<rect x="514" y="453" width="1" height="4" fill="#fff"/>
<rect x="517" y="453" width="1" height="4" fill="#fff"/>
<rect x="520" y="453" width="1" height="4" fill="#fff"/>
<rect x="523" y="453" width="1" height="4" fill="#fff"/>
<rect x="526" y="453" width="1" height="4" fill="#fff"/>
<rect x="529" y="453" width="1" height="4" fill="#fff"/>
<rect x="532" y="453" width="1" height="4" fill="#fff"/>
<rect x="535" y="453" width="1" height="4" fill="#fff"/>
<rect x="538" y="453" width="1" height="4" fill="#fff"/>
<rect x="541" y="453" width="1" height="4" fill="#fff"/>
<rect x="544" y="453" width="1" height="4" fill="#fff"/>
<rect x="547" y="453" width="1" height="4" fill="#fff"/>
<rect x="550" y="453" width="1" height="4" fill="#fff"/>
<rect x="553" y="453" width="1" height="4" fill="#fff"/>
<rect x="556" y="453" width="1" height="4" fill="#fff"/>
<rect x="559" y="453" width="1" height="4" fill="#fff"/>
<rect x="562" y="453" width="1" height="4" fill="#fff"/>
<rect x="565" y="453" width="1" height="4" fill="#fff"/>
<rect x="568" y="453" width="1" height="4" fill="#fff"/>
<rect x="451" y="450" width="9" height="6" fill="#fff"/>
<rect x="573" y="451" width="10" height="1" fill="#000"/>
<rect x="573" y="451" width="1" height="9" fill="#000"/>
<rect x="573" y="459" width="5" height="1" fill="#000"/>
<rect x="577" y="457" width="1" height="7" fill="#000"/>
<rect x="577" y="457" width="5" height="1" fill="#000"/>
<rect x="581" y="457" width="1" height="3" fill="#000"/>
<rect x="583" y="450" width="4" height="14" fill="#000"/>
<rect x="587" y="452" width="7" height="1" fill="#000"/>
<rect x="587" y="459" width="7" height="1" fill="#000"/>
<rect x="317" y="465" width="278" height="16" fill="#000"/>
<rect x="318" y="466" width="276" height="14" fill="#fff"/>
<rect x="318" y="468" width="7" height="1" fill="#000"/>
<rect x="318" y="475" width="7" height="1" fill="#000"/>
<rect x="325" y="466" width="4" height="14" fill="#000"/>
<rect x="329" y="467" width="10" height="1" fill="#000"/>
<rect x="338" y="467" width="1" height="9" fill="#000"/>
<rect x="334" y="475" width="5" height="1" fill="#000"/>
<rect x="334" y="473" width="1" height="7" fill="#000"/>
<rect x="330" y="473" width="5" height="1" fill="#000"/>
<rect x="330" y="473" width="1" height="3" fill="#000"/>
<rect x="329" y="475" width="2" height="1" fill="#000"/>
<rect x="341" y="467" width="230" height="12" fill="#000"/>
<rect x="343" y="469" width="1" height="4" fill="#fff"/>
<rect x="346" y="469" width="1" height="4" fill="#fff"/>
<rect x="349" y="469" width="1" height="4" fill="#fff"/>
<rect x="352" y="469" width="1" height="4" fill="#fff"/>
<rect x="355" y="469" width="1" height="4" fill="#fff"/>
<rect x="358" y="469" width="1" height="4" fill="#fff"/>
<rect x="361" y="469" width="1" height="4" fill="#fff"/>
<rect x="364" y="469" width="1" height="4" fill="#fff"/>
<rect x="367" y="469" width="1" height="4" fill="#fff"/>
<rect x="370" y="469" width="1" height="4" fill="#fff"/>
<rect x="373" y="469" width="1" height="4" fill="#fff"/>
<rect x="376" y="469" width="1" height="4" fill="#fff"/>
<rect x="379" y="469" width="1" height="4" fill="#fff"/>
<rect x="382" y="469" width="1" height="4" fill="#fff"/>
<rect x="385" y="469" width="1" height="4" fill="#fff"/>
<rect x="388" y="469" width="1" height="4" fill="#fff"/>
<rect x="391" y="469" width="1" height="4" fill="#fff"/>
<rect x="394" y="469" width="1" height="4" fill="#fff"/>
<rect x="397" y="469" width="1" height="4" fill="#fff"/>
<rect x="400" y="469" width="1" height="4" fill="#fff"/>
<rect x="403" y="469" width="1" height="4" fill="#fff"/>
<rect x="406" y="469" width="1" height="4" fill="#fff"/>
<rect x="409" y="469" width="1" height="4" fill="#fff"/>
<rect x="412" y="469" width="1" height="4" fill="#fff"/>
<rect x="415" y="469" width="1" height="4" fill="#fff"/>
<rect x="418" y="469" width="1" height="4" fill="#fff"/>
<rect x="421" y="469" width="1" height="4" fill="#fff"/>
<rect x="424" y="469" width="1" height="4" fill="#fff"/>
<rect x="427" y="469" width="1" height="4" fill="#fff"/>
<rect x="430" y="469" width="1" height="4" fill="#fff"/>
<rect x="433" y="469" width="1" height="4" fill="#fff"/>
<rect x="436" y="469" width="1" height="4" fill="#fff"/>
<rect x="439" y="469" width="1" height="4" fill="#fff"/>
<rect x="442" y="469" width="1" height="4" fill="#fff"/>
<rect x="445" y="469" width="1" height="4" fill="#fff"/>
<rect x="448" y="469" width="1" height="4" fill="#fff"/>
<rect x="451" y="469" width="1" height="4" fill="#fff"/>
<rect x="454" y="469" width="1" height="4" fill="#fff"/>
<rect x="457" y="469" width="1" height="4" fill="#fff"/>
<rect x="460" y="469" width="1" height="4" fill="#fff"/>
<rect x="463" y="469" width="1" height="4" fill="#fff"/>
<rect x="466" y="469" width="1" height="4" fill="#fff"/>
<rect x="469" y="469" width="1" height="4" fill="#fff"/>
<rect x="472" y="469" width="1" height="4" fill="#fff"/>
<rect x="475" y="469" width="1" height="4" fill="#fff"/>
<rect x="478" y="469" width="1" height="4" fill="#fff"/>
<rect x="481" y="469" width="1" height="4" fill="#fff"/>
<rect x="484" y="469" width="1" height="4" fill="#fff"/>
<rect x="487" y="469" width="1" height="4" fill="#fff"/>
<rect x="490" y="469" width="1" height="4" fill="#fff"/>
<rect x="493" y="469" width="1" height="4" fill="#fff"/>
<rect x="496" y="469" width="1" height="4" fill="#fff"/>
<rect x="499" y="469" width="1" height="4" fill="#fff"/>
<rect x="502" y="469" width="1" height="4" fill="#fff"/>
<rect x="505" y="469" width="1" height="4" fill="#fff"/>
<rect x="508" y="469" width="1" height="4" fill="#fff"/>
<rect x="511" y="469" width="1" height="4" fill="#fff"/>
<rect x="514" y="469" width="1" height="4" fill="#fff"/>
<rect x="517" y="469" width="1" height="4" fill="#fff"/>
<rect x="520" y="469" width="1" height="4" fill="#fff"/>
<rect x="523" y="469" width="1" height="4" fill="#fff"/>
<rect x="526" y="469" width="1" height="4" fill="#fff"/>
<rect x="529" y="469" width="1" height="4" fill="#fff"/>
<rect x="532" y="469" width="1" height="4" fill="#fff"/>
<rect x="535" y="469" width="1" height="4" fill="#fff"/>
<rect x="538" y="469" width="1" height="4" fill="#fff"/>
<rect x="541" y="469" width="1" height="4" fill="#fff"/>
<rect x="544" y="469" width="1" height="4" fill="#fff"/>
<rect x="547" y="469" width="1" height="4" fill="#fff"/>
<rect x="550" y="469" width="1" height="4" fill="#fff"/>
<rect x="553" y="469" width="1" height="4" fill="#fff"/>
<rect x="556" y="469" width="1" height="4" fill="#fff"/>
<rect x="559" y="469" width="1" height="4" fill="#fff"/>
<rect x="562" y="469" width="1" height="4" fill="#fff"/>
<rect x="565" y="469" width="1" height="4" fill="#fff"/>
<rect x="568" y="469" width="1" height="4" fill="#fff"/>
<rect x="451" y="474" width="9" height="5" fill="#fff"/>
<rect x="573" y="467" width="10" height="1" fill="#000"/>
<rect x="573" y="467" width="1" height="9" fill="#000"/>
<rect x="573" y="475" width="5" height="1" fill="#000"/>
<rect x="577" y="473" width="1" height="7" fill="#000"/>
<rect x="577" y="473" width="5" height="1" fill="#000"/>
<rect x="581" y="473" width="1" height="3" fill="#000"/>
<rect x="583" y="466" width="4" height="14" fill="#000"/>
<rect x="587" y="468" width="7" height="1" fill="#000"/>
<rect x="587" y="475" width="7" height="1" fill="#000"/>
<rect x="428" y="424" width="56" height="14" rx="2" fill="#000"/>
<rect x="429" y="425" width="54" height="12" fill="#fff"/>
<text transform="translate(432,434) scale(0.82,1)" font-size="13.6" letter-spacing="1.86" fill="#000" filter="url(#th)">BANK 0</text>
<rect x="428" y="457" width="56" height="15" rx="2" fill="#000"/>
<rect x="429" y="458" width="54" height="13" fill="#fff"/>
<text transform="translate(432,468) scale(0.82,1)" font-size="13.6" letter-spacing="1.86" fill="#000" filter="url(#th)">BANK 1</text>
<rect x="285" y="459" width="7" height="14" fill="#000"/>
<rect x="286" y="460" width="5" height="1" fill="#fff"/>
<rect x="286" y="466" width="5" height="1" fill="#fff"/>
<rect x="286" y="471" width="5" height="1" fill="#fff"/>
<rect x="306" y="457" width="40" height="18" rx="3" fill="#000"/>
<polygon points="309,463 309,469 292,466" fill="#fff" stroke="#000" stroke-width="2" stroke-linejoin="round"/>
<rect x="308" y="459" width="36" height="14" rx="1.5" fill="#fff"/>
<text transform="translate(312,470) scale(0.82,1)" font-size="13.6" letter-spacing="1.35" fill="#000" filter="url(#th)">JP14</text>
<rect x="422" y="503" width="113" height="25" fill="#000"/>
<rect x="423" y="504" width="111" height="23" fill="#fff"/>
<rect x="423" y="511" width="111" height="1" fill="#000"/>
<rect x="426" y="506" width="3" height="1" fill="#000"/>
<rect x="424" y="507" width="7" height="2" fill="#000"/>
<rect x="426" y="509" width="3" height="2" fill="#000"/>
<rect x="424" y="513" width="7" height="3" fill="#000"/>
<rect x="435" y="506" width="3" height="1" fill="#000"/>
<rect x="433" y="507" width="7" height="2" fill="#000"/>
<rect x="435" y="509" width="3" height="2" fill="#000"/>
<rect x="433" y="513" width="7" height="3" fill="#000"/>
<rect x="444" y="506" width="3" height="1" fill="#000"/>
<rect x="442" y="507" width="7" height="2" fill="#000"/>
<rect x="444" y="509" width="3" height="2" fill="#000"/>
<rect x="442" y="513" width="7" height="3" fill="#000"/>
<rect x="454" y="506" width="3" height="1" fill="#000"/>
<rect x="452" y="507" width="7" height="2" fill="#000"/>
<rect x="454" y="509" width="3" height="2" fill="#000"/>
<rect x="452" y="513" width="7" height="3" fill="#000"/>
<rect x="463" y="506" width="3" height="1" fill="#000"/>
<rect x="461" y="507" width="7" height="2" fill="#000"/>
<rect x="463" y="509" width="3" height="2" fill="#000"/>
<rect x="461" y="513" width="7" height="3" fill="#000"/>
<rect x="472" y="506" width="3" height="1" fill="#000"/>
<rect x="470" y="507" width="7" height="2" fill="#000"/>
<rect x="472" y="509" width="3" height="2" fill="#000"/>
<rect x="470" y="513" width="7" height="3" fill="#000"/>
<rect x="481" y="506" width="3" height="1" fill="#000"/>
<rect x="479" y="507" width="7" height="2" fill="#000"/>
<rect x="481" y="509" width="3" height="2" fill="#000"/>
<rect x="479" y="513" width="7" height="3" fill="#000"/>
<rect x="490" y="506" width="3" height="1" fill="#000"/>
<rect x="488" y="507" width="7" height="2" fill="#000"/>
<rect x="490" y="509" width="3" height="2" fill="#000"/>
<rect x="488" y="513" width="7" height="3" fill="#000"/>
<rect x="500" y="506" width="3" height="1" fill="#000"/>
<rect x="498" y="507" width="7" height="2" fill="#000"/>
<rect x="500" y="509" width="3" height="2" fill="#000"/>
<rect x="498" y="513" width="7" height="3" fill="#000"/>
<rect x="509" y="506" width="3" height="1" fill="#000"/>
<rect x="507" y="507" width="7" height="2" fill="#000"/>
<rect x="509" y="509" width="3" height="2" fill="#000"/>
<rect x="507" y="513" width="7" height="3" fill="#000"/>
<rect x="518" y="506" width="3" height="1" fill="#000"/>
<rect x="516" y="507" width="7" height="2" fill="#000"/>
<rect x="518" y="509" width="3" height="2" fill="#000"/>
<rect x="516" y="513" width="7" height="3" fill="#000"/>
<rect x="527" y="506" width="3" height="1" fill="#000"/>
<rect x="525" y="507" width="7" height="2" fill="#000"/>
<rect x="527" y="509" width="3" height="2" fill="#000"/>
<rect x="525" y="513" width="7" height="3" fill="#000"/>
<rect x="428" y="517" width="7" height="7" fill="#000"/>
<rect x="429" y="518" width="5" height="5" fill="#fff"/>
<rect x="437" y="517" width="7" height="7" fill="#000"/>
<rect x="438" y="518" width="5" height="5" fill="#fff"/>
<rect x="445" y="517" width="7" height="7" fill="#000"/>
<rect x="446" y="518" width="5" height="5" fill="#fff"/>
<rect x="454" y="517" width="7" height="7" fill="#000"/>
<rect x="455" y="518" width="5" height="5" fill="#fff"/>
<rect x="463" y="517" width="7" height="7" fill="#000"/>
<rect x="464" y="518" width="5" height="5" fill="#fff"/>
<rect x="471" y="517" width="7" height="7" fill="#000"/>
<rect x="472" y="518" width="5" height="5" fill="#fff"/>
<rect x="480" y="517" width="7" height="7" fill="#000"/>
<rect x="481" y="518" width="5" height="5" fill="#fff"/>
<rect x="488" y="517" width="7" height="7" fill="#000"/>
<rect x="489" y="518" width="5" height="5" fill="#fff"/>
<rect x="497" y="517" width="7" height="7" fill="#000"/>
<rect x="498" y="518" width="5" height="5" fill="#fff"/>
<rect x="506" y="517" width="7" height="7" fill="#000"/>
<rect x="507" y="518" width="5" height="5" fill="#fff"/>
<rect x="514" y="517" width="7" height="7" fill="#000"/>
<rect x="515" y="518" width="5" height="5" fill="#fff"/>
<rect x="523" y="517" width="7" height="7" fill="#000"/>
<rect x="524" y="518" width="5" height="5" fill="#fff"/>
<rect x="422" y="518" width="2" height="5" fill="#fff"/>
<rect x="423" y="517" width="1" height="1" fill="#000"/>
<rect x="423" y="523" width="1" height="1" fill="#000"/>
<rect x="424" y="518" width="1" height="5" fill="#000"/>
<rect x="533" y="518" width="2" height="5" fill="#fff"/>
<rect x="533" y="517" width="1" height="1" fill="#000"/>
<rect x="533" y="523" width="1" height="1" fill="#000"/>
<rect x="532" y="518" width="1" height="5" fill="#000"/>
<rect x="625" y="509" width="112" height="24" fill="#000"/>
<rect x="626" y="510" width="110" height="22" fill="#fff"/>
<rect x="626" y="517" width="110" height="1" fill="#000"/>
<rect x="629" y="512" width="3" height="1" fill="#000"/>
<rect x="627" y="513" width="7" height="2" fill="#000"/>
<rect x="629" y="515" width="3" height="2" fill="#000"/>
<rect x="627" y="519" width="7" height="3" fill="#000"/>
<rect x="638" y="512" width="3" height="1" fill="#000"/>
<rect x="636" y="513" width="7" height="2" fill="#000"/>
<rect x="638" y="515" width="3" height="2" fill="#000"/>
<rect x="636" y="519" width="7" height="3" fill="#000"/>
<rect x="647" y="512" width="3" height="1" fill="#000"/>
<rect x="645" y="513" width="7" height="2" fill="#000"/>
<rect x="647" y="515" width="3" height="2" fill="#000"/>
<rect x="645" y="519" width="7" height="3" fill="#000"/>
<rect x="656" y="512" width="3" height="1" fill="#000"/>
<rect x="654" y="513" width="7" height="2" fill="#000"/>
<rect x="656" y="515" width="3" height="2" fill="#000"/>
<rect x="654" y="519" width="7" height="3" fill="#000"/>
<rect x="665" y="512" width="3" height="1" fill="#000"/>
<rect x="663" y="513" width="7" height="2" fill="#000"/>
<rect x="665" y="515" width="3" height="2" fill="#000"/>
<rect x="663" y="519" width="7" height="3" fill="#000"/>
<rect x="674" y="512" width="3" height="1" fill="#000"/>
<rect x="672" y="513" width="7" height="2" fill="#000"/>
<rect x="674" y="515" width="3" height="2" fill="#000"/>
<rect x="672" y="519" width="7" height="3" fill="#000"/>
<rect x="683" y="512" width="3" height="1" fill="#000"/>
<rect x="681" y="513" width="7" height="2" fill="#000"/>
<rect x="683" y="515" width="3" height="2" fill="#000"/>
<rect x="681" y="519" width="7" height="3" fill="#000"/>
<rect x="692" y="512" width="3" height="1" fill="#000"/>
<rect x="690" y="513" width="7" height="2" fill="#000"/>
<rect x="692" y="515" width="3" height="2" fill="#000"/>
<rect x="690" y="519" width="7" height="3" fill="#000"/>
<rect x="701" y="512" width="3" height="1" fill="#000"/>
<rect x="699" y="513" width="7" height="2" fill="#000"/>
<rect x="701" y="515" width="3" height="2" fill="#000"/>
<rect x="699" y="519" width="7" height="3" fill="#000"/>
<rect x="710" y="512" width="3" height="1" fill="#000"/>
<rect x="708" y="513" width="7" height="2" fill="#000"/>
<rect x="710" y="515" width="3" height="2" fill="#000"/>
<rect x="708" y="519" width="7" height="3" fill="#000"/>
<rect x="719" y="512" width="3" height="1" fill="#000"/>
<rect x="717" y="513" width="7" height="2" fill="#000"/>
<rect x="719" y="515" width="3" height="2" fill="#000"/>
<rect x="717" y="519" width="7" height="3" fill="#000"/>
<rect x="728" y="512" width="3" height="1" fill="#000"/>
<rect x="726" y="513" width="7" height="2" fill="#000"/>
<rect x="728" y="515" width="3" height="2" fill="#000"/>
<rect x="726" y="519" width="7" height="3" fill="#000"/>
<rect x="631" y="523" width="7" height="7" fill="#000"/>
<rect x="632" y="524" width="5" height="5" fill="#fff"/>
<rect x="640" y="523" width="7" height="7" fill="#000"/>
<rect x="641" y="524" width="5" height="5" fill="#fff"/>
<rect x="648" y="523" width="7" height="7" fill="#000"/>
<rect x="649" y="524" width="5" height="5" fill="#fff"/>
<rect x="657" y="523" width="7" height="7" fill="#000"/>
<rect x="658" y="524" width="5" height="5" fill="#fff"/>
<rect x="665" y="523" width="7" height="7" fill="#000"/>
<rect x="666" y="524" width="5" height="5" fill="#fff"/>
<rect x="674" y="523" width="7" height="7" fill="#000"/>
<rect x="675" y="524" width="5" height="5" fill="#fff"/>
<rect x="682" y="523" width="7" height="7" fill="#000"/>
<rect x="683" y="524" width="5" height="5" fill="#fff"/>
<rect x="691" y="523" width="7" height="7" fill="#000"/>
<rect x="692" y="524" width="5" height="5" fill="#fff"/>
<rect x="699" y="523" width="7" height="7" fill="#000"/>
<rect x="700" y="524" width="5" height="5" fill="#fff"/>
<rect x="708" y="523" width="7" height="7" fill="#000"/>
<rect x="709" y="524" width="5" height="5" fill="#fff"/>
<rect x="716" y="523" width="7" height="7" fill="#000"/>
<rect x="717" y="524" width="5" height="5" fill="#fff"/>
<rect x="725" y="523" width="7" height="7" fill="#000"/>
<rect x="726" y="524" width="5" height="5" fill="#fff"/>
<rect x="625" y="524" width="2" height="5" fill="#fff"/>
<rect x="626" y="523" width="1" height="1" fill="#000"/>
<rect x="626" y="529" width="1" height="1" fill="#000"/>
<rect x="627" y="524" width="1" height="5" fill="#000"/>
<rect x="735" y="524" width="2" height="5" fill="#fff"/>
<rect x="735" y="523" width="1" height="1" fill="#000"/>
<rect x="735" y="529" width="1" height="1" fill="#000"/>
<rect x="734" y="524" width="1" height="5" fill="#000"/>
<rect x="618" y="461" width="119" height="12" fill="#000"/>
<rect x="619" y="467" width="117" height="1" fill="#fff"/>
<rect x="619" y="462" width="1" height="10" fill="#fff"/>
<rect x="625" y="462" width="1" height="10" fill="#fff"/>
<rect x="631" y="462" width="1" height="10" fill="#fff"/>
<rect x="637" y="462" width="1" height="10" fill="#fff"/>
<rect x="643" y="462" width="1" height="10" fill="#fff"/>
<rect x="649" y="462" width="1" height="10" fill="#fff"/>
<rect x="655" y="462" width="1" height="10" fill="#fff"/>
<rect x="661" y="462" width="1" height="10" fill="#fff"/>
<rect x="667" y="462" width="1" height="10" fill="#fff"/>
<rect x="673" y="462" width="1" height="10" fill="#fff"/>
<rect x="679" y="462" width="1" height="10" fill="#fff"/>
<rect x="685" y="462" width="1" height="10" fill="#fff"/>
<rect x="691" y="462" width="1" height="10" fill="#fff"/>
<rect x="697" y="462" width="1" height="10" fill="#fff"/>
<rect x="703" y="462" width="1" height="10" fill="#fff"/>
<rect x="709" y="462" width="1" height="10" fill="#fff"/>
<rect x="715" y="462" width="1" height="10" fill="#fff"/>
<rect x="721" y="462" width="1" height="10" fill="#fff"/>
<rect x="727" y="462" width="1" height="10" fill="#fff"/>
<rect x="733" y="462" width="1" height="10" fill="#fff"/>
<rect x="731" y="463" width="3" height="3" fill="#fff"/>
<rect x="618" y="482" width="119" height="12" fill="#000"/>
<rect x="619" y="488" width="117" height="1" fill="#fff"/>
<rect x="619" y="483" width="1" height="10" fill="#fff"/>
<rect x="625" y="483" width="1" height="10" fill="#fff"/>
<rect x="631" y="483" width="1" height="10" fill="#fff"/>
<rect x="637" y="483" width="1" height="10" fill="#fff"/>
<rect x="643" y="483" width="1" height="10" fill="#fff"/>
<rect x="649" y="483" width="1" height="10" fill="#fff"/>
<rect x="655" y="483" width="1" height="10" fill="#fff"/>
<rect x="661" y="483" width="1" height="10" fill="#fff"/>
<rect x="667" y="483" width="1" height="10" fill="#fff"/>
<rect x="673" y="483" width="1" height="10" fill="#fff"/>
<rect x="679" y="483" width="1" height="10" fill="#fff"/>
<rect x="685" y="483" width="1" height="10" fill="#fff"/>
<rect x="691" y="483" width="1" height="10" fill="#fff"/>
<rect x="697" y="483" width="1" height="10" fill="#fff"/>
<rect x="703" y="483" width="1" height="10" fill="#fff"/>
<rect x="709" y="483" width="1" height="10" fill="#fff"/>
<rect x="715" y="483" width="1" height="10" fill="#fff"/>
<rect x="721" y="483" width="1" height="10" fill="#fff"/>
<rect x="727" y="483" width="1" height="10" fill="#fff"/>
<rect x="733" y="483" width="1" height="10" fill="#fff"/>
<rect x="731" y="484" width="3" height="3" fill="#fff"/>
<rect x="619" y="492" width="117" height="1" fill="#fff"/>
<rect x="568" y="479" width="36" height="19" rx="3" fill="#000"/>
<polygon points="601,485 601,491 618,488" fill="#fff" stroke="#000" stroke-width="2" stroke-linejoin="round"/>
<rect x="570" y="481" width="32" height="15" rx="1.5" fill="#fff"/>
<text transform="translate(575,493) scale(0.82,1)" font-size="13.6" letter-spacing="1.65" fill="#000" filter="url(#th)">J71</text>
<rect x="616" y="421" width="6" height="14" fill="#000"/>
<rect x="617" y="422" width="4" height="1" fill="#fff"/>
<rect x="617" y="428" width="4" height="1" fill="#fff"/>
<rect x="617" y="433" width="4" height="1" fill="#fff"/>
<rect x="625" y="397" width="41" height="16" rx="3" fill="#000"/>
<polygon points="627,409 630,411 618,421" fill="#fff" stroke="#000" stroke-width="2" stroke-linejoin="round"/>
<rect x="627" y="399" width="37" height="12" rx="1.5" fill="#fff"/>
<text transform="translate(631,408) scale(0.82,1)" font-size="13.6" letter-spacing="1.9500000000000002" fill="#000" filter="url(#th)">J108</text>
<rect x="660" y="426" width="33" height="19" rx="3" fill="#000"/>
<polygon points="673,442 680,442 676,461" fill="#fff" stroke="#000" stroke-width="2" stroke-linejoin="round"/>
<rect x="662" y="428" width="29" height="15" rx="1.5" fill="#fff"/>
<text transform="translate(665,439) scale(0.82,1)" font-size="13.6" letter-spacing="1.4500000000000002" fill="#000" filter="url(#th)">J70</text>
<rect x="760" y="457" width="30" height="37" fill="#000"/>
<rect x="786" y="450" width="4" height="51" fill="#000"/>
<rect x="784" y="452" width="2" height="47" fill="#000"/>
<rect x="757" y="462" width="3" height="25" fill="#000"/>
<rect x="753" y="464" width="5" height="9" fill="#000"/>
<rect x="754" y="465" width="3" height="7" fill="#fff"/>
<rect x="753" y="477" width="5" height="9" fill="#000"/>
<rect x="754" y="478" width="3" height="7" fill="#fff"/>
</svg>
</body></html>
